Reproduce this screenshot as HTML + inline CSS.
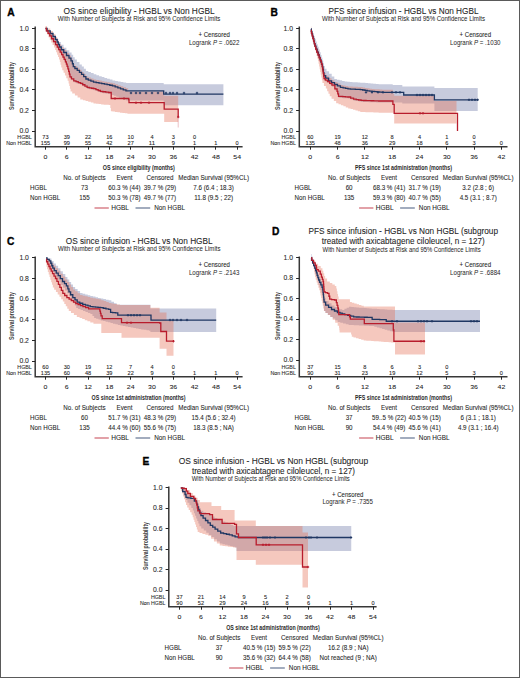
<!DOCTYPE html><html><head><meta charset="utf-8"><style>html,body{margin:0;padding:0;background:#fff;overflow:hidden}svg{display:block}</style></head><body>
<svg width="520" height="678" viewBox="0 0 520 678" font-family='"Liberation Sans", sans-serif'>
<rect x="0" y="0" width="520" height="678" fill="#fff"/>
<path d="M45.50,28.40 L47.12,28.40 L47.12,30.70 L50.38,30.70 L50.38,33.00 L52.00,33.00 L52.00,33.00 L53.25,33.00 L53.25,35.97 L55.75,35.97 L55.75,38.93 L58.25,38.93 L58.25,41.90 L59.50,41.90 L59.50,41.90 L60.85,41.90 L60.85,44.85 L63.55,44.85 L63.55,47.80 L64.90,47.80 L64.90,47.80 L66.38,47.80 L66.38,50.15 L69.33,50.15 L69.33,52.50 L70.80,52.50 L70.80,52.50 L71.58,52.50 L71.58,54.87 L73.15,54.87 L73.15,57.23 L74.72,57.23 L74.72,59.60 L75.50,59.60 L75.50,59.60 L76.83,59.60 L76.83,62.00 L79.47,62.00 L79.47,64.40 L80.80,64.40 L80.80,64.40 L81.82,64.40 L81.82,66.60 L83.85,66.60 L83.85,68.80 L85.88,68.80 L85.88,71.00 L86.90,71.00 L86.90,71.00 L88.25,71.00 L88.25,72.06 L90.95,72.06 L90.95,73.12 L93.65,73.12 L93.65,74.18 L96.35,74.18 L96.35,75.24 L99.05,75.24 L99.05,76.30 L100.40,76.30 L100.40,76.30 L101.74,76.30 L101.74,77.12 L104.42,77.12 L104.42,77.94 L107.10,77.94 L107.10,78.76 L109.78,78.76 L109.78,79.58 L112.46,79.58 L112.46,80.40 L113.80,80.40 L113.80,80.40 L115.17,80.40 L115.17,80.92 L117.91,80.92 L117.91,81.44 L120.65,81.44 L120.65,81.96 L123.39,81.96 L123.39,82.48 L126.13,82.48 L126.13,83.00 L127.50,83.00 L127.50,83.00 L163.70,83.00 L163.70,84.20 L223.40,84.20 L223.40,84.20 L223.40,105.20 L223.40,105.20 L163.70,105.20 L163.70,100.50 L127.50,100.50 L127.50,100.50 L126.25,100.50 L126.25,99.57 L123.75,99.57 L123.75,98.64 L121.25,98.64 L121.25,97.71 L118.75,97.71 L118.75,96.79 L116.25,96.79 L116.25,95.86 L113.75,95.86 L113.75,94.93 L111.25,94.93 L111.25,94.00 L110.00,94.00 L110.00,94.00 L108.58,94.00 L108.58,93.63 L105.75,93.63 L105.75,93.27 L102.92,93.27 L102.92,92.90 L101.50,92.90 L101.50,92.90 L100.38,92.90 L100.38,92.00 L98.15,92.00 L98.15,91.10 L95.92,91.10 L95.92,90.20 L94.80,90.20 L94.80,90.20 L93.70,90.20 L93.70,89.77 L91.50,89.77 L91.50,89.33 L89.30,89.33 L89.30,88.90 L88.20,88.90 L88.20,88.90 L87.10,88.90 L87.10,87.57 L84.90,87.57 L84.90,86.23 L82.70,86.23 L82.70,84.90 L81.60,84.90 L81.60,84.90 L80.48,84.90 L80.48,84.03 L78.25,84.03 L78.25,83.17 L76.02,83.17 L76.02,82.30 L74.90,82.30 L74.90,82.30 L73.75,82.30 L73.75,80.30 L71.45,80.30 L71.45,78.30 L70.30,78.30 L70.30,78.30 L69.97,78.30 L69.97,75.63 L69.30,75.63 L69.30,72.97 L68.63,72.97 L68.63,70.30 L68.30,70.30 L68.30,70.30 L67.92,70.30 L67.92,67.97 L67.15,67.97 L67.15,65.63 L66.38,65.63 L66.38,63.30 L66.00,63.30 L66.00,63.30 L65.40,63.30 L65.40,60.93 L64.20,60.93 L64.20,58.57 L63.00,58.57 L63.00,56.20 L62.40,56.20 L62.40,56.20 L61.66,56.20 L61.66,53.68 L60.19,53.68 L60.19,51.15 L58.71,51.15 L58.71,48.62 L57.24,48.62 L57.24,46.10 L56.50,46.10 L56.50,46.10 L55.52,46.10 L55.52,43.17 L53.55,43.17 L53.55,40.23 L51.58,40.23 L51.58,37.30 L50.60,37.30 L50.60,37.30 L49.75,37.30 L49.75,34.83 L48.05,34.83 L48.05,32.37 L46.35,32.37 L46.35,29.90 L45.50,29.90 Z" fill="rgba(102,113,163,0.37)" stroke="none"/>
<path d="M45.50,25.90 L47.08,25.90 L47.08,28.45 L50.22,28.45 L50.22,31.00 L51.80,31.00 L51.80,31.00 L53.00,31.00 L53.00,34.00 L55.40,34.00 L55.40,37.00 L56.60,37.00 L56.60,37.00 L57.17,37.00 L57.17,39.50 L58.30,39.50 L58.30,42.00 L59.43,42.00 L59.43,44.50 L60.00,44.50 L60.00,44.50 L61.25,44.50 L61.25,47.25 L63.75,47.25 L63.75,50.00 L65.00,50.00 L65.00,50.00 L66.50,50.00 L66.50,53.00 L68.00,53.00 L68.00,53.00 L69.00,53.00 L69.00,55.65 L71.00,55.65 L71.00,58.30 L72.00,58.30 L72.00,58.30 L72.42,58.30 L72.42,61.25 L73.28,61.25 L73.28,64.20 L73.70,64.20 L73.70,64.20 L74.88,64.20 L74.88,66.00 L77.23,66.00 L77.23,67.80 L78.40,67.80 L78.40,67.80 L79.45,67.80 L79.45,69.85 L81.55,69.85 L81.55,71.90 L82.60,71.90 L82.60,71.90 L83.70,71.90 L83.70,74.20 L85.90,74.20 L85.90,76.50 L87.00,76.50 L87.00,76.50 L88.30,76.50 L88.30,77.53 L90.90,77.53 L90.90,78.57 L93.50,78.57 L93.50,79.60 L94.80,79.60 L94.80,79.60 L96.20,79.60 L96.20,80.10 L99.00,80.10 L99.00,80.60 L100.40,80.60 L100.40,80.60 L101.74,80.60 L101.74,81.14 L104.42,81.14 L104.42,81.68 L107.10,81.68 L107.10,82.22 L109.78,82.22 L109.78,82.76 L112.46,82.76 L112.46,83.30 L113.80,83.30 L113.80,83.30 L115.15,83.30 L115.15,84.30 L117.85,84.30 L117.85,85.30 L120.55,85.30 L120.55,86.30 L123.25,86.30 L123.25,87.30 L125.95,87.30 L125.95,88.30 L127.30,88.30 L127.30,88.30 L128.15,88.30 L128.15,91.50 L129.00,91.50 L129.00,91.50 L164.20,91.50 L164.20,95.80 L178.20,95.80 L178.20,95.80 L178.20,127.50 L178.20,121.90 L164.20,121.90 L164.20,113.70 L128.70,113.70 L128.70,113.70 L127.45,113.70 L127.45,113.34 L124.95,113.34 L124.95,112.99 L122.45,112.99 L122.45,112.63 L119.95,112.63 L119.95,112.27 L117.45,112.27 L117.45,111.91 L114.95,111.91 L114.95,111.56 L112.45,111.56 L112.45,111.20 L111.20,111.20 L111.20,111.20 L110.90,111.20 L110.90,108.10 L110.30,108.10 L110.30,105.00 L110.00,105.00 L110.00,105.00 L108.75,105.00 L108.75,104.85 L106.25,104.85 L106.25,104.70 L105.00,104.70 L105.00,104.70 L103.72,104.70 L103.72,104.38 L101.17,104.38 L101.17,104.05 L98.62,104.05 L98.62,103.73 L96.08,103.73 L96.08,103.40 L94.80,103.40 L94.80,103.40 L93.48,103.40 L93.48,102.60 L90.84,102.60 L90.84,101.80 L88.20,101.80 L88.20,101.00 L85.56,101.00 L85.56,100.20 L82.92,100.20 L82.92,99.40 L81.60,99.40 L81.60,99.40 L80.26,99.40 L80.26,97.40 L77.59,97.40 L77.59,95.40 L74.91,95.40 L74.91,93.40 L72.24,93.40 L72.24,91.40 L70.90,91.40 L70.90,91.40 L70.58,91.40 L70.58,88.75 L69.92,88.75 L69.92,86.10 L69.28,86.10 L69.28,83.45 L68.62,83.45 L68.62,80.80 L68.30,80.80 L68.30,80.80 L67.63,80.80 L67.63,78.14 L66.29,78.14 L66.29,75.48 L64.95,75.48 L64.95,72.82 L63.61,72.82 L63.61,70.16 L62.27,70.16 L62.27,67.50 L61.60,67.50 L61.60,67.50 L61.25,67.50 L61.25,64.80 L60.55,64.80 L60.55,62.10 L59.85,62.10 L59.85,59.40 L59.50,59.40 L59.50,59.40 L59.02,59.40 L59.02,57.04 L58.06,57.04 L58.06,54.68 L57.10,54.68 L57.10,52.32 L56.14,52.32 L56.14,49.96 L55.18,49.96 L55.18,47.60 L54.70,47.60 L54.70,47.60 L54.00,47.60 L54.00,45.00 L52.60,45.00 L52.60,42.40 L51.20,42.40 L51.20,39.80 L49.80,39.80 L49.80,37.20 L48.40,37.20 L48.40,34.60 L47.70,34.60 L47.70,34.60 L47.15,34.60 L47.15,31.50 L46.05,31.50 L46.05,28.40 L45.50,28.40 Z" fill="rgba(229,110,84,0.38)" stroke="none"/>
<path d="M45.50,28.40 L47.08,28.40 L47.08,30.95 L50.22,30.95 L50.22,33.50 L51.80,33.50 L51.80,33.50 L53.00,33.50 L53.00,36.50 L55.40,36.50 L55.40,39.50 L56.60,39.50 L56.60,39.50 L57.17,39.50 L57.17,42.00 L58.30,42.00 L58.30,44.50 L59.43,44.50 L59.43,47.00 L60.00,47.00 L60.00,47.00 L61.25,47.00 L61.25,49.75 L63.75,49.75 L63.75,52.50 L65.00,52.50 L65.00,52.50 L66.50,52.50 L66.50,55.50 L68.00,55.50 L68.00,55.50 L69.00,55.50 L69.00,58.15 L71.00,58.15 L71.00,60.80 L72.00,60.80 L72.00,60.80 L72.42,60.80 L72.42,63.75 L73.28,63.75 L73.28,66.70 L73.70,66.70 L73.70,66.70 L74.88,66.70 L74.88,68.50 L77.23,68.50 L77.23,70.30 L78.40,70.30 L78.40,70.30 L79.45,70.30 L79.45,72.35 L81.55,72.35 L81.55,74.40 L82.60,74.40 L82.60,74.40 L83.70,74.40 L83.70,76.70 L85.90,76.70 L85.90,79.00 L87.00,79.00 L87.00,79.00 L88.30,79.00 L88.30,80.03 L90.90,80.03 L90.90,81.07 L93.50,81.07 L93.50,82.10 L94.80,82.10 L94.80,82.10 L96.20,82.10 L96.20,82.60 L99.00,82.60 L99.00,83.10 L100.40,83.10 L100.40,83.10 L101.74,83.10 L101.74,83.64 L104.42,83.64 L104.42,84.18 L107.10,84.18 L107.10,84.72 L109.78,84.72 L109.78,85.26 L112.46,85.26 L112.46,85.80 L113.80,85.80 L113.80,85.80 L115.15,85.80 L115.15,86.80 L117.85,86.80 L117.85,87.80 L120.55,87.80 L120.55,88.80 L123.25,88.80 L123.25,89.80 L125.95,89.80 L125.95,90.80 L127.30,90.80 L127.30,90.80 L163.70,90.80 L163.70,94.20 L223.40,94.20 L223.40,94.20" fill="none" stroke="#1f3763" stroke-width="1.3" stroke-linejoin="miter"/>
<path d="M45.50,28.40 L46.35,28.40 L46.35,30.87 L48.05,30.87 L48.05,33.33 L49.75,33.33 L49.75,35.80 L50.60,35.80 L50.60,35.80 L51.58,35.80 L51.58,38.73 L53.55,38.73 L53.55,41.67 L55.52,41.67 L55.52,44.60 L56.50,44.60 L56.50,44.60 L57.24,44.60 L57.24,47.12 L58.71,47.12 L58.71,49.65 L60.19,49.65 L60.19,52.18 L61.66,52.18 L61.66,54.70 L62.40,54.70 L62.40,54.70 L63.00,54.70 L63.00,57.07 L64.20,57.07 L64.20,59.43 L65.40,59.43 L65.40,61.80 L66.00,61.80 L66.00,61.80 L66.38,61.80 L66.38,64.13 L67.15,64.13 L67.15,66.47 L67.92,66.47 L67.92,68.80 L68.30,68.80 L68.30,68.80 L68.63,68.80 L68.63,71.47 L69.30,71.47 L69.30,74.13 L69.97,74.13 L69.97,76.80 L70.30,76.80 L70.30,76.80 L71.45,76.80 L71.45,78.80 L73.75,78.80 L73.75,80.80 L74.90,80.80 L74.90,80.80 L76.02,80.80 L76.02,81.67 L78.25,81.67 L78.25,82.53 L80.48,82.53 L80.48,83.40 L81.60,83.40 L81.60,83.40 L82.70,83.40 L82.70,84.73 L84.90,84.73 L84.90,86.07 L87.10,86.07 L87.10,87.40 L88.20,87.40 L88.20,87.40 L89.30,87.40 L89.30,87.83 L91.50,87.83 L91.50,88.27 L93.70,88.27 L93.70,88.70 L94.80,88.70 L94.80,88.70 L95.92,88.70 L95.92,89.60 L98.15,89.60 L98.15,90.50 L100.38,90.50 L100.38,91.40 L101.50,91.40 L101.50,91.40 L102.92,91.40 L102.92,91.77 L105.75,91.77 L105.75,92.13 L108.58,92.13 L108.58,92.50 L110.00,92.50 L110.00,92.50 L111.20,92.50 L111.20,98.50 L128.70,98.50 L128.70,99.50 L129.00,99.50 L129.00,102.70 L164.20,102.70 L164.20,109.20 L178.20,109.20 L178.20,117.00 L178.20,117.00 L178.20,117.00" fill="none" stroke="#b81c2c" stroke-width="1.3" stroke-linejoin="miter"/>
<path d="M129.80,93.00H132.20M131.00,91.80V94.20M134.80,93.00H137.20M136.00,91.80V94.20M138.80,93.00H141.20M140.00,91.80V94.20M144.80,93.00H147.20M146.00,91.80V94.20M150.80,93.00H153.20M152.00,91.80V94.20M156.80,93.00H159.20M158.00,91.80V94.20M164.80,93.00H167.20M166.00,91.80V94.20M168.80,93.00H171.20M170.00,91.80V94.20M171.80,93.00H174.20M173.00,91.80V94.20M175.80,93.00H178.20M177.00,91.80V94.20M182.80,93.00H185.20M184.00,91.80V94.20M195.80,93.00H198.20M197.00,91.80V94.20" stroke="#1f3763" stroke-width="1.0" fill="none"/>
<path d="M113.80,98.50H116.20M115.00,97.30V99.70M122.80,98.50H125.20M124.00,97.30V99.70" stroke="#b81c2c" stroke-width="1.0" fill="none"/>
<path d="M134.80,102.70H137.20M136.00,101.50V103.90M139.80,102.70H142.20M141.00,101.50V103.90M147.80,102.70H150.20M149.00,101.50V103.90" stroke="#b81c2c" stroke-width="1.0" fill="none"/>
<path d="M177.00,117.00H179.40M178.20,115.80V118.20" stroke="#b81c2c" stroke-width="1.0" fill="none"/>
<line x1="178.2" y1="117" x2="178.2" y2="127.5" stroke="#b81c2c" stroke-opacity="0.35" stroke-width="0.8"/>
<path d="M35.20,26.50 V146.70 H242.60" fill="none" stroke="#383838" stroke-width="1.5"/>
<line x1="32.00" y1="131.50" x2="35.20" y2="131.50" stroke="#262626" stroke-width="1"/>
<text x="28.90" y="133.20" font-size="6.5" text-anchor="end" font-weight="normal" fill="#1e1e1e" textLength="9.48" lengthAdjust="spacingAndGlyphs" stroke="#1e1e1e" stroke-width="0.07">0.0</text>
<line x1="32.00" y1="110.50" x2="35.20" y2="110.50" stroke="#262626" stroke-width="1"/>
<text x="28.90" y="112.68" font-size="6.5" text-anchor="end" font-weight="normal" fill="#1e1e1e" textLength="9.48" lengthAdjust="spacingAndGlyphs" stroke="#1e1e1e" stroke-width="0.07">0.2</text>
<line x1="32.00" y1="89.50" x2="35.20" y2="89.50" stroke="#262626" stroke-width="1"/>
<text x="28.90" y="92.16" font-size="6.5" text-anchor="end" font-weight="normal" fill="#1e1e1e" textLength="9.48" lengthAdjust="spacingAndGlyphs" stroke="#1e1e1e" stroke-width="0.07">0.4</text>
<line x1="32.00" y1="69.50" x2="35.20" y2="69.50" stroke="#262626" stroke-width="1"/>
<text x="28.90" y="71.64" font-size="6.5" text-anchor="end" font-weight="normal" fill="#1e1e1e" textLength="9.48" lengthAdjust="spacingAndGlyphs" stroke="#1e1e1e" stroke-width="0.07">0.6</text>
<line x1="32.00" y1="48.50" x2="35.20" y2="48.50" stroke="#262626" stroke-width="1"/>
<text x="28.90" y="51.12" font-size="6.5" text-anchor="end" font-weight="normal" fill="#1e1e1e" textLength="9.48" lengthAdjust="spacingAndGlyphs" stroke="#1e1e1e" stroke-width="0.07">0.8</text>
<line x1="32.00" y1="28.50" x2="35.20" y2="28.50" stroke="#262626" stroke-width="1"/>
<text x="28.90" y="30.60" font-size="6.5" text-anchor="end" font-weight="normal" fill="#1e1e1e" textLength="9.48" lengthAdjust="spacingAndGlyphs" stroke="#1e1e1e" stroke-width="0.07">1.0</text>
<line x1="45.50" y1="146.70" x2="45.50" y2="149.70" stroke="#262626" stroke-width="1"/>
<text x="45.50" y="158.50" font-size="5.8" text-anchor="middle" font-weight="normal" fill="#1e1e1e" textLength="3.87" lengthAdjust="spacingAndGlyphs" stroke="#1e1e1e" stroke-width="0.07">0</text>
<line x1="66.50" y1="146.70" x2="66.50" y2="149.70" stroke="#262626" stroke-width="1"/>
<text x="66.80" y="158.50" font-size="5.8" text-anchor="middle" font-weight="normal" fill="#1e1e1e" textLength="3.87" lengthAdjust="spacingAndGlyphs" stroke="#1e1e1e" stroke-width="0.07">6</text>
<line x1="88.50" y1="146.70" x2="88.50" y2="149.70" stroke="#262626" stroke-width="1"/>
<text x="88.10" y="158.50" font-size="5.8" text-anchor="middle" font-weight="normal" fill="#1e1e1e" textLength="7.74" lengthAdjust="spacingAndGlyphs" stroke="#1e1e1e" stroke-width="0.07">12</text>
<line x1="109.50" y1="146.70" x2="109.50" y2="149.70" stroke="#262626" stroke-width="1"/>
<text x="109.40" y="158.50" font-size="5.8" text-anchor="middle" font-weight="normal" fill="#1e1e1e" textLength="7.74" lengthAdjust="spacingAndGlyphs" stroke="#1e1e1e" stroke-width="0.07">18</text>
<line x1="130.50" y1="146.70" x2="130.50" y2="149.70" stroke="#262626" stroke-width="1"/>
<text x="130.70" y="158.50" font-size="5.8" text-anchor="middle" font-weight="normal" fill="#1e1e1e" textLength="7.74" lengthAdjust="spacingAndGlyphs" stroke="#1e1e1e" stroke-width="0.07">24</text>
<line x1="152.50" y1="146.70" x2="152.50" y2="149.70" stroke="#262626" stroke-width="1"/>
<text x="152.00" y="158.50" font-size="5.8" text-anchor="middle" font-weight="normal" fill="#1e1e1e" textLength="7.74" lengthAdjust="spacingAndGlyphs" stroke="#1e1e1e" stroke-width="0.07">30</text>
<line x1="173.50" y1="146.70" x2="173.50" y2="149.70" stroke="#262626" stroke-width="1"/>
<text x="173.30" y="158.50" font-size="5.8" text-anchor="middle" font-weight="normal" fill="#1e1e1e" textLength="7.74" lengthAdjust="spacingAndGlyphs" stroke="#1e1e1e" stroke-width="0.07">36</text>
<line x1="194.50" y1="146.70" x2="194.50" y2="149.70" stroke="#262626" stroke-width="1"/>
<text x="194.60" y="158.50" font-size="5.8" text-anchor="middle" font-weight="normal" fill="#1e1e1e" textLength="7.74" lengthAdjust="spacingAndGlyphs" stroke="#1e1e1e" stroke-width="0.07">42</text>
<line x1="215.50" y1="146.70" x2="215.50" y2="149.70" stroke="#262626" stroke-width="1"/>
<text x="215.90" y="158.50" font-size="5.8" text-anchor="middle" font-weight="normal" fill="#1e1e1e" textLength="7.74" lengthAdjust="spacingAndGlyphs" stroke="#1e1e1e" stroke-width="0.07">48</text>
<line x1="237.50" y1="146.70" x2="237.50" y2="149.70" stroke="#262626" stroke-width="1"/>
<text x="237.20" y="158.50" font-size="5.8" text-anchor="middle" font-weight="normal" fill="#1e1e1e" textLength="7.74" lengthAdjust="spacingAndGlyphs" stroke="#1e1e1e" stroke-width="0.07">54</text>
<text x="45.50" y="139.40" font-size="4.6" text-anchor="middle" font-weight="normal" fill="#1e1e1e" textLength="6.24" lengthAdjust="spacingAndGlyphs" stroke="#1e1e1e" stroke-width="0.07">73</text>
<text x="66.80" y="139.40" font-size="4.6" text-anchor="middle" font-weight="normal" fill="#1e1e1e" textLength="6.24" lengthAdjust="spacingAndGlyphs" stroke="#1e1e1e" stroke-width="0.07">39</text>
<text x="88.10" y="139.40" font-size="4.6" text-anchor="middle" font-weight="normal" fill="#1e1e1e" textLength="6.24" lengthAdjust="spacingAndGlyphs" stroke="#1e1e1e" stroke-width="0.07">22</text>
<text x="109.40" y="139.40" font-size="4.6" text-anchor="middle" font-weight="normal" fill="#1e1e1e" textLength="6.24" lengthAdjust="spacingAndGlyphs" stroke="#1e1e1e" stroke-width="0.07">16</text>
<text x="130.70" y="139.40" font-size="4.6" text-anchor="middle" font-weight="normal" fill="#1e1e1e" textLength="6.24" lengthAdjust="spacingAndGlyphs" stroke="#1e1e1e" stroke-width="0.07">10</text>
<text x="152.00" y="139.40" font-size="4.6" text-anchor="middle" font-weight="normal" fill="#1e1e1e" textLength="3.12" lengthAdjust="spacingAndGlyphs" stroke="#1e1e1e" stroke-width="0.07">4</text>
<text x="173.30" y="139.40" font-size="4.6" text-anchor="middle" font-weight="normal" fill="#1e1e1e" textLength="3.12" lengthAdjust="spacingAndGlyphs" stroke="#1e1e1e" stroke-width="0.07">3</text>
<text x="194.60" y="139.40" font-size="4.6" text-anchor="middle" font-weight="normal" fill="#1e1e1e" textLength="3.12" lengthAdjust="spacingAndGlyphs" stroke="#1e1e1e" stroke-width="0.07">0</text>
<text x="45.50" y="145.40" font-size="4.6" text-anchor="middle" font-weight="normal" fill="#1e1e1e" textLength="9.36" lengthAdjust="spacingAndGlyphs" stroke="#1e1e1e" stroke-width="0.07">155</text>
<text x="66.80" y="145.40" font-size="4.6" text-anchor="middle" font-weight="normal" fill="#1e1e1e" textLength="6.24" lengthAdjust="spacingAndGlyphs" stroke="#1e1e1e" stroke-width="0.07">99</text>
<text x="88.10" y="145.40" font-size="4.6" text-anchor="middle" font-weight="normal" fill="#1e1e1e" textLength="6.24" lengthAdjust="spacingAndGlyphs" stroke="#1e1e1e" stroke-width="0.07">55</text>
<text x="109.40" y="145.40" font-size="4.6" text-anchor="middle" font-weight="normal" fill="#1e1e1e" textLength="6.24" lengthAdjust="spacingAndGlyphs" stroke="#1e1e1e" stroke-width="0.07">42</text>
<text x="130.70" y="145.40" font-size="4.6" text-anchor="middle" font-weight="normal" fill="#1e1e1e" textLength="6.24" lengthAdjust="spacingAndGlyphs" stroke="#1e1e1e" stroke-width="0.07">27</text>
<text x="152.00" y="145.40" font-size="4.6" text-anchor="middle" font-weight="normal" fill="#1e1e1e" textLength="6.24" lengthAdjust="spacingAndGlyphs" stroke="#1e1e1e" stroke-width="0.07">11</text>
<text x="173.30" y="145.40" font-size="4.6" text-anchor="middle" font-weight="normal" fill="#1e1e1e" textLength="3.12" lengthAdjust="spacingAndGlyphs" stroke="#1e1e1e" stroke-width="0.07">9</text>
<text x="194.60" y="145.40" font-size="4.6" text-anchor="middle" font-weight="normal" fill="#1e1e1e" textLength="3.12" lengthAdjust="spacingAndGlyphs" stroke="#1e1e1e" stroke-width="0.07">1</text>
<text x="215.90" y="145.40" font-size="4.6" text-anchor="middle" font-weight="normal" fill="#1e1e1e" textLength="3.12" lengthAdjust="spacingAndGlyphs" stroke="#1e1e1e" stroke-width="0.07">1</text>
<text x="237.20" y="145.40" font-size="4.6" text-anchor="middle" font-weight="normal" fill="#1e1e1e" textLength="3.12" lengthAdjust="spacingAndGlyphs" stroke="#1e1e1e" stroke-width="0.07">0</text>
<text x="31.80" y="139.40" font-size="5.0" text-anchor="end" font-weight="normal" fill="#1e1e1e" textLength="14.5" lengthAdjust="spacingAndGlyphs" stroke="#1e1e1e" stroke-width="0.07">HGBL</text>
<text x="31.80" y="145.40" font-size="5.0" text-anchor="end" font-weight="normal" fill="#1e1e1e" textLength="25.5" lengthAdjust="spacingAndGlyphs" stroke="#1e1e1e" stroke-width="0.07">Non HGBL</text>
<text x="0" y="0" font-size="7.4" font-weight="bold" text-anchor="middle" fill-opacity="0.9" fill="#1e1e1e" transform="translate(14.40,86.00) rotate(-90)" textLength="48" lengthAdjust="spacingAndGlyphs">Survival probability</text>
<text x="138.80" y="169.80" font-size="8.0" text-anchor="middle" font-weight="bold" fill="#2a2a2a" textLength="72" lengthAdjust="spacingAndGlyphs">OS since eligibility (months)</text>
<text x="10.90" y="15.70" font-size="10.2" text-anchor="middle" font-weight="bold" fill="#000" stroke="#000" stroke-width="0.35">A</text>
<text x="139.10" y="13.80" font-size="8.4" text-anchor="middle" font-weight="normal" fill="#1e1e1e" textLength="151" lengthAdjust="spacingAndGlyphs" stroke="#1e1e1e" stroke-width="0.07">OS since eligibility - HGBL vs Non HGBL</text>
<text x="139.10" y="21.20" font-size="6.5" text-anchor="middle" font-weight="normal" fill="#1e1e1e" textLength="162.5" lengthAdjust="spacingAndGlyphs" stroke="#1e1e1e" stroke-width="0.03">With Number of Subjects at Risk and 95% Confidence Limits</text>
<text x="214.20" y="36.90" font-size="6.4" text-anchor="middle" font-weight="normal" fill="#1e1e1e" textLength="31.5" lengthAdjust="spacingAndGlyphs" stroke="#1e1e1e" stroke-width="0.07">+ Censored</text>
<text x="214.20" y="44.50" font-size="6.5" text-anchor="middle" fill="#1e1e1e" textLength="50.5" lengthAdjust="spacingAndGlyphs">Logrank <tspan font-style="italic">P</tspan> = .0622</text>
<text x="84.50" y="180.20" font-size="6.6" text-anchor="middle" font-weight="normal" fill="#1e1e1e" textLength="42.32" lengthAdjust="spacingAndGlyphs" stroke="#1e1e1e" stroke-width="0.07">No. of Subjects</text>
<text x="124.50" y="180.20" font-size="6.6" text-anchor="middle" font-weight="normal" fill="#1e1e1e" textLength="15.96" lengthAdjust="spacingAndGlyphs" stroke="#1e1e1e" stroke-width="0.07">Event</text>
<text x="160.00" y="180.20" font-size="6.6" text-anchor="middle" font-weight="normal" fill="#1e1e1e" textLength="27.06" lengthAdjust="spacingAndGlyphs" stroke="#1e1e1e" stroke-width="0.07">Censored</text>
<text x="213.60" y="180.20" font-size="6.6" text-anchor="middle" font-weight="normal" fill="#1e1e1e" textLength="70.75" lengthAdjust="spacingAndGlyphs" stroke="#1e1e1e" stroke-width="0.07">Median Survival (95%CL)</text>
<text x="30.00" y="190.00" font-size="6.6" text-anchor="start" font-weight="normal" fill="#1e1e1e" textLength="16.99" lengthAdjust="spacingAndGlyphs" stroke="#1e1e1e" stroke-width="0.07">HGBL</text>
<text x="84.50" y="190.00" font-size="6.6" text-anchor="middle" font-weight="normal" fill="#1e1e1e" textLength="6.94" lengthAdjust="spacingAndGlyphs" stroke="#1e1e1e" stroke-width="0.07">73</text>
<text x="124.50" y="190.00" font-size="6.6" text-anchor="middle" font-weight="normal" fill="#1e1e1e" textLength="32.26" lengthAdjust="spacingAndGlyphs" stroke="#1e1e1e" stroke-width="0.07">60.3 % (44)</text>
<text x="160.00" y="190.00" font-size="6.6" text-anchor="middle" font-weight="normal" fill="#1e1e1e" textLength="32.26" lengthAdjust="spacingAndGlyphs" stroke="#1e1e1e" stroke-width="0.07">39.7 % (29)</text>
<text x="213.60" y="190.00" font-size="6.6" text-anchor="middle" font-weight="normal" fill="#1e1e1e" textLength="40.58" lengthAdjust="spacingAndGlyphs" stroke="#1e1e1e" stroke-width="0.07">7.6 (6.4 ; 18.3)</text>
<text x="30.00" y="199.60" font-size="6.6" text-anchor="start" font-weight="normal" fill="#1e1e1e" textLength="30.17" lengthAdjust="spacingAndGlyphs" stroke="#1e1e1e" stroke-width="0.07">Non HGBL</text>
<text x="84.50" y="199.60" font-size="6.6" text-anchor="middle" font-weight="normal" fill="#1e1e1e" textLength="10.41" lengthAdjust="spacingAndGlyphs" stroke="#1e1e1e" stroke-width="0.07">155</text>
<text x="124.50" y="199.60" font-size="6.6" text-anchor="middle" font-weight="normal" fill="#1e1e1e" textLength="32.26" lengthAdjust="spacingAndGlyphs" stroke="#1e1e1e" stroke-width="0.07">50.3 % (78)</text>
<text x="160.00" y="199.60" font-size="6.6" text-anchor="middle" font-weight="normal" fill="#1e1e1e" textLength="32.26" lengthAdjust="spacingAndGlyphs" stroke="#1e1e1e" stroke-width="0.07">49.7 % (77)</text>
<text x="213.60" y="199.60" font-size="6.6" text-anchor="middle" font-weight="normal" fill="#1e1e1e" textLength="38.85" lengthAdjust="spacingAndGlyphs" stroke="#1e1e1e" stroke-width="0.07">11.8 (9.5 ; 22)</text>
<line x1="94.50" y1="208.00" x2="108.80" y2="208.00" stroke="#b81c2c" stroke-width="1.1" stroke-opacity="0.75"/>
<text x="111.20" y="210.00" font-size="6.3" text-anchor="start" font-weight="normal" fill="#1e1e1e" textLength="17.81" lengthAdjust="spacingAndGlyphs" stroke="#1e1e1e" stroke-width="0.07">HGBL</text>
<line x1="135.50" y1="208.00" x2="150.20" y2="208.00" stroke="#1f3763" stroke-width="1.1" stroke-opacity="0.75"/>
<text x="154.20" y="210.00" font-size="6.3" text-anchor="start" font-weight="normal" fill="#1e1e1e" textLength="30.75" lengthAdjust="spacingAndGlyphs" stroke="#1e1e1e" stroke-width="0.07">Non HGBL</text>
<path d="M310.80,28.40 L311.36,28.40 L311.36,30.98 L312.49,30.98 L312.49,33.55 L313.61,33.55 L313.61,36.12 L314.74,36.12 L314.74,38.70 L315.30,38.70 L315.30,38.70 L315.79,38.70 L315.79,41.42 L316.77,41.42 L316.77,44.13 L317.76,44.13 L317.76,46.85 L318.74,46.85 L318.74,49.57 L319.73,49.57 L319.73,52.28 L320.71,52.28 L320.71,55.00 L321.20,55.00 L321.20,55.00 L321.60,55.00 L321.60,57.74 L322.40,57.74 L322.40,60.48 L323.20,60.48 L323.20,63.22 L324.00,63.22 L324.00,65.96 L324.80,65.96 L324.80,68.70 L325.20,68.70 L325.20,68.70 L326.50,68.70 L326.50,71.28 L329.10,71.28 L329.10,73.85 L331.70,73.85 L331.70,76.42 L334.30,76.42 L334.30,79.00 L335.60,79.00 L335.60,79.00 L336.90,79.00 L336.90,79.65 L339.50,79.65 L339.50,80.30 L342.10,80.30 L342.10,80.95 L344.70,80.95 L344.70,81.60 L346.00,81.60 L346.00,81.60 L347.30,81.60 L347.30,81.78 L349.88,81.78 L349.88,81.96 L352.48,81.96 L352.48,82.14 L355.06,82.14 L355.06,82.32 L357.65,82.32 L357.65,82.50 L360.25,82.50 L360.25,82.68 L362.83,82.68 L362.83,82.86 L365.42,82.86 L365.42,83.04 L368.01,83.04 L368.01,83.22 L370.60,83.22 L370.60,83.40 L371.90,83.40 L371.90,83.40 L373.25,83.40 L373.25,83.67 L375.95,83.67 L375.95,83.93 L378.65,83.93 L378.65,84.20 L380.00,84.20 L380.00,84.20 L392.70,84.20 L392.70,85.10 L402.30,85.10 L402.30,86.50 L434.40,86.50 L434.40,88.00 L477.70,88.00 L477.70,88.00 L477.70,111.00 L477.70,111.00 L434.40,111.00 L434.40,103.40 L402.30,103.40 L402.30,102.50 L380.00,102.50 L380.00,102.50 L378.74,102.50 L378.74,102.41 L376.21,102.41 L376.21,102.33 L373.68,102.33 L373.68,102.24 L371.15,102.24 L371.15,102.16 L368.62,102.16 L368.62,102.07 L366.09,102.07 L366.09,101.99 L363.56,101.99 L363.56,101.90 L362.30,101.90 L362.30,101.90 L361.08,101.90 L361.08,101.50 L358.65,101.50 L358.65,101.10 L356.22,101.10 L356.22,100.70 L355.00,100.70 L355.00,100.70 L353.55,100.70 L353.55,99.60 L350.65,99.60 L350.65,98.50 L349.20,98.50 L349.20,98.50 L347.91,98.50 L347.91,98.33 L345.34,98.33 L345.34,98.15 L342.76,98.15 L342.76,97.97 L340.19,97.97 L340.19,97.80 L338.90,97.80 L338.90,97.80 L338.53,97.80 L338.53,95.33 L337.80,95.33 L337.80,92.87 L337.07,92.87 L337.07,90.40 L336.70,90.40 L336.70,90.40 L334.85,90.40 L334.85,86.70 L333.00,86.70 L333.00,86.70 L331.90,86.70 L331.90,84.85 L329.70,84.85 L329.70,83.00 L328.60,83.00 L328.60,83.00 L327.50,83.00 L327.50,81.55 L325.30,81.55 L325.30,80.10 L324.20,80.10 L324.20,80.10 L324.02,80.10 L324.02,77.63 L323.65,77.63 L323.65,75.17 L323.28,75.17 L323.28,72.70 L322.92,72.70 L322.92,70.23 L322.55,70.23 L322.55,67.77 L322.18,67.77 L322.18,65.30 L322.00,65.30 L322.00,65.30 L321.43,65.30 L321.43,62.35 L320.27,62.35 L320.27,59.40 L319.70,59.40 L319.70,59.40 L319.10,59.40 L319.10,56.47 L317.90,56.47 L317.90,53.53 L316.70,53.53 L316.70,50.60 L316.10,50.60 L316.10,50.60 L315.74,50.60 L315.74,47.94 L315.01,47.94 L315.01,45.29 L314.28,45.29 L314.28,42.63 L313.55,42.63 L313.55,39.97 L312.82,39.97 L312.82,37.31 L312.09,37.31 L312.09,34.66 L311.36,34.66 L311.36,32.00 L311.00,32.00 Z" fill="rgba(102,113,163,0.37)" stroke="none"/>
<path d="M311.00,26.50 L311.31,26.50 L311.31,28.94 L311.92,28.94 L311.92,31.39 L312.54,31.39 L312.54,33.83 L313.15,33.83 L313.15,36.27 L313.76,36.27 L313.76,38.71 L314.38,38.71 L314.38,41.16 L314.99,41.16 L314.99,43.60 L315.30,43.60 L315.30,43.60 L315.92,43.60 L315.92,46.57 L317.15,46.57 L317.15,49.53 L318.38,49.53 L318.38,52.50 L319.00,52.50 L319.00,52.50 L319.37,52.50 L319.37,54.86 L320.11,54.86 L320.11,57.22 L320.85,57.22 L320.85,59.58 L321.59,59.58 L321.59,61.94 L322.33,61.94 L322.33,64.30 L322.70,64.30 L322.70,64.30 L322.95,64.30 L322.95,67.23 L323.45,67.23 L323.45,70.17 L323.95,70.17 L323.95,73.10 L324.20,73.10 L324.20,73.10 L325.68,73.10 L325.68,75.70 L328.62,75.70 L328.62,78.30 L330.10,78.30 L330.10,78.30 L331.58,78.30 L331.58,80.15 L334.52,80.15 L334.52,82.00 L336.00,82.00 L336.00,82.00 L337.48,82.00 L337.48,83.45 L340.42,83.45 L340.42,84.90 L341.90,84.90 L341.90,84.90 L343.12,84.90 L343.12,85.40 L345.55,85.40 L345.55,85.90 L347.98,85.90 L347.98,86.40 L349.20,86.40 L349.20,86.40 L350.43,86.40 L350.43,86.54 L352.89,86.54 L352.89,86.68 L355.35,86.68 L355.35,86.82 L357.81,86.82 L357.81,86.96 L360.27,86.96 L360.27,87.10 L361.50,87.10 L361.50,87.10 L362.66,87.10 L362.66,87.50 L364.99,87.50 L364.99,87.90 L367.31,87.90 L367.31,88.30 L369.64,88.30 L369.64,88.70 L370.80,88.70 L370.80,88.70 L372.07,88.70 L372.07,88.92 L374.61,88.92 L374.61,89.14 L377.15,89.14 L377.15,89.36 L379.69,89.36 L379.69,89.58 L382.23,89.58 L382.23,89.80 L383.50,89.80 L383.50,89.80 L392.90,89.80 L392.90,93.50 L394.20,93.50 L394.20,95.70 L434.40,95.70 L434.40,101.00 L456.50,101.00 L456.50,101.00 L456.50,123.60 L456.50,123.60 L394.20,123.60 L394.20,112.80 L391.50,112.80 L391.50,112.70 L380.00,112.70 L380.00,112.70 L378.68,112.70 L378.68,112.59 L376.04,112.59 L376.04,112.47 L373.39,112.47 L373.39,112.36 L370.75,112.36 L370.75,112.24 L368.11,112.24 L368.11,112.13 L365.46,112.13 L365.46,112.01 L362.82,112.01 L362.82,111.90 L361.50,111.90 L361.50,111.90 L360.29,111.90 L360.29,111.20 L357.87,111.20 L357.87,110.50 L355.45,110.50 L355.45,109.80 L353.03,109.80 L353.03,109.10 L350.61,109.10 L350.61,108.40 L349.40,108.40 L349.40,108.40 L348.19,108.40 L348.19,107.38 L345.77,107.38 L345.77,106.36 L343.35,106.36 L343.35,105.34 L340.93,105.34 L340.93,104.32 L338.51,104.32 L338.51,103.30 L337.30,103.30 L337.30,103.30 L336.15,103.30 L336.15,100.97 L333.85,100.97 L333.85,98.63 L331.55,98.63 L331.55,96.30 L330.40,96.30 L330.40,96.30 L329.75,96.30 L329.75,93.72 L328.45,93.72 L328.45,91.15 L327.15,91.15 L327.15,88.58 L325.85,88.58 L325.85,86.00 L325.20,86.00 L325.20,86.00 L323.95,86.00 L323.95,83.00 L322.70,83.00 L322.70,83.00 L322.43,83.00 L322.43,80.24 L321.88,80.24 L321.88,77.47 L321.32,77.47 L321.32,74.71 L320.77,74.71 L320.77,71.95 L320.23,71.95 L320.23,69.19 L319.68,69.19 L319.68,66.42 L319.12,66.42 L319.12,63.66 L318.57,63.66 L318.57,60.90 L318.30,60.90 L318.30,60.90 L317.97,60.90 L317.97,58.39 L317.30,58.39 L317.30,55.88 L316.62,55.88 L316.62,53.37 L315.96,53.37 L315.96,50.86 L315.29,50.86 L315.29,48.35 L314.62,48.35 L314.62,45.84 L313.94,45.84 L313.94,43.33 L313.28,43.33 L313.28,40.82 L312.61,40.82 L312.61,38.31 L311.94,38.31 L311.94,35.80 L311.60,35.80 L311.60,35.80 L311.20,35.80 L311.20,32.00 L310.80,32.00 Z" fill="rgba(229,110,84,0.38)" stroke="none"/>
<path d="M311.00,29.00 L311.31,29.00 L311.31,31.44 L311.92,31.44 L311.92,33.89 L312.54,33.89 L312.54,36.33 L313.15,36.33 L313.15,38.77 L313.76,38.77 L313.76,41.21 L314.38,41.21 L314.38,43.66 L314.99,43.66 L314.99,46.10 L315.30,46.10 L315.30,46.10 L315.92,46.10 L315.92,49.07 L317.15,49.07 L317.15,52.03 L318.38,52.03 L318.38,55.00 L319.00,55.00 L319.00,55.00 L319.37,55.00 L319.37,57.36 L320.11,57.36 L320.11,59.72 L320.85,59.72 L320.85,62.08 L321.59,62.08 L321.59,64.44 L322.33,64.44 L322.33,66.80 L322.70,66.80 L322.70,66.80 L322.95,66.80 L322.95,69.73 L323.45,69.73 L323.45,72.67 L323.95,72.67 L323.95,75.60 L324.20,75.60 L324.20,75.60 L325.68,75.60 L325.68,78.20 L328.62,78.20 L328.62,80.80 L330.10,80.80 L330.10,80.80 L331.58,80.80 L331.58,82.65 L334.52,82.65 L334.52,84.50 L336.00,84.50 L336.00,84.50 L337.48,84.50 L337.48,85.95 L340.42,85.95 L340.42,87.40 L341.90,87.40 L341.90,87.40 L343.12,87.40 L343.12,87.90 L345.55,87.90 L345.55,88.40 L347.98,88.40 L347.98,88.90 L349.20,88.90 L349.20,88.90 L350.43,88.90 L350.43,89.04 L352.89,89.04 L352.89,89.18 L355.35,89.18 L355.35,89.32 L357.81,89.32 L357.81,89.46 L360.27,89.46 L360.27,89.60 L361.50,89.60 L361.50,89.60 L362.66,89.60 L362.66,90.00 L364.99,90.00 L364.99,90.40 L367.31,90.40 L367.31,90.80 L369.64,90.80 L369.64,91.20 L370.80,91.20 L370.80,91.20 L372.07,91.20 L372.07,91.42 L374.61,91.42 L374.61,91.64 L377.15,91.64 L377.15,91.86 L379.69,91.86 L379.69,92.08 L382.23,92.08 L382.23,92.30 L383.50,92.30 L383.50,92.30 L402.30,92.30 L402.30,92.30 L403.70,92.30 L403.70,95.00 L434.40,95.00 L434.40,95.00 L434.40,95.00 L434.40,99.80 L477.70,99.80 L477.70,99.80" fill="none" stroke="#1f3763" stroke-width="1.3" stroke-linejoin="miter"/>
<path d="M311.00,30.50 L311.36,30.50 L311.36,33.16 L312.09,33.16 L312.09,35.81 L312.82,35.81 L312.82,38.47 L313.55,38.47 L313.55,41.13 L314.28,41.13 L314.28,43.79 L315.01,43.79 L315.01,46.44 L315.74,46.44 L315.74,49.10 L316.10,49.10 L316.10,49.10 L316.70,49.10 L316.70,52.03 L317.90,52.03 L317.90,54.97 L319.10,54.97 L319.10,57.90 L319.70,57.90 L319.70,57.90 L320.27,57.90 L320.27,60.85 L321.43,60.85 L321.43,63.80 L322.00,63.80 L322.00,63.80 L322.18,63.80 L322.18,66.27 L322.55,66.27 L322.55,68.73 L322.92,68.73 L322.92,71.20 L323.28,71.20 L323.28,73.67 L323.65,73.67 L323.65,76.13 L324.02,76.13 L324.02,78.60 L324.20,78.60 L324.20,78.60 L325.30,78.60 L325.30,80.05 L327.50,80.05 L327.50,81.50 L328.60,81.50 L328.60,81.50 L329.70,81.50 L329.70,83.35 L331.90,83.35 L331.90,85.20 L333.00,85.20 L333.00,85.20 L334.85,85.20 L334.85,88.90 L336.70,88.90 L336.70,88.90 L337.07,88.90 L337.07,91.37 L337.80,91.37 L337.80,93.83 L338.53,93.83 L338.53,96.30 L338.90,96.30 L338.90,96.30 L340.19,96.30 L340.19,96.47 L342.76,96.47 L342.76,96.65 L345.34,96.65 L345.34,96.83 L347.91,96.83 L347.91,97.00 L349.20,97.00 L349.20,97.00 L350.65,97.00 L350.65,98.10 L353.55,98.10 L353.55,99.20 L355.00,99.20 L355.00,99.20 L356.22,99.20 L356.22,99.60 L358.65,99.60 L358.65,100.00 L361.08,100.00 L361.08,100.40 L362.30,100.40 L362.30,100.40 L363.56,100.40 L363.56,100.49 L366.09,100.49 L366.09,100.57 L368.62,100.57 L368.62,100.66 L371.15,100.66 L371.15,100.74 L373.68,100.74 L373.68,100.83 L376.21,100.83 L376.21,100.91 L378.74,100.91 L378.74,101.00 L380.00,101.00 L380.00,101.00 L391.50,101.00 L391.50,101.00 L392.90,101.00 L392.90,104.40 L394.20,104.40 L394.20,113.30 L457.50,113.30 L457.50,113.30 L457.50,113.30 L457.50,131.00" fill="none" stroke="#b81c2c" stroke-width="1.3" stroke-linejoin="miter"/>
<path d="M364.80,92.30H367.20M366.00,91.10V93.50M370.80,92.30H373.20M372.00,91.10V93.50M376.80,92.30H379.20M378.00,91.10V93.50M381.80,92.30H384.20M383.00,91.10V93.50M390.80,92.30H393.20M392.00,91.10V93.50M394.80,92.30H397.20M396.00,91.10V93.50M398.80,92.30H401.20M400.00,91.10V93.50" stroke="#1f3763" stroke-width="1.0" fill="none"/>
<path d="M415.80,95.00H418.20M417.00,93.80V96.20M418.80,95.00H421.20M420.00,93.80V96.20M421.80,95.00H424.20M423.00,93.80V96.20M424.80,95.00H427.20M426.00,93.80V96.20M427.80,95.00H430.20M429.00,93.80V96.20M430.80,95.00H433.20M432.00,93.80V96.20" stroke="#1f3763" stroke-width="1.0" fill="none"/>
<path d="M467.80,99.80H470.20M469.00,98.60V101.00M470.80,99.80H473.20M472.00,98.60V101.00M473.80,99.80H476.20M475.00,98.60V101.00M476.50,99.80H478.90M477.70,98.60V101.00" stroke="#1f3763" stroke-width="1.0" fill="none"/>
<path d="M418.80,113.30H421.20M420.00,112.10V114.50M421.80,113.30H424.20M423.00,112.10V114.50" stroke="#b81c2c" stroke-width="1.0" fill="none"/>
<path d="M299.30,26.50 V146.70 H507.50" fill="none" stroke="#383838" stroke-width="1.5"/>
<line x1="296.10" y1="131.50" x2="299.30" y2="131.50" stroke="#262626" stroke-width="1"/>
<text x="293.00" y="133.20" font-size="6.5" text-anchor="end" font-weight="normal" fill="#1e1e1e" textLength="9.48" lengthAdjust="spacingAndGlyphs" stroke="#1e1e1e" stroke-width="0.07">0.0</text>
<line x1="296.10" y1="110.50" x2="299.30" y2="110.50" stroke="#262626" stroke-width="1"/>
<text x="293.00" y="112.68" font-size="6.5" text-anchor="end" font-weight="normal" fill="#1e1e1e" textLength="9.48" lengthAdjust="spacingAndGlyphs" stroke="#1e1e1e" stroke-width="0.07">0.2</text>
<line x1="296.10" y1="89.50" x2="299.30" y2="89.50" stroke="#262626" stroke-width="1"/>
<text x="293.00" y="92.16" font-size="6.5" text-anchor="end" font-weight="normal" fill="#1e1e1e" textLength="9.48" lengthAdjust="spacingAndGlyphs" stroke="#1e1e1e" stroke-width="0.07">0.4</text>
<line x1="296.10" y1="69.50" x2="299.30" y2="69.50" stroke="#262626" stroke-width="1"/>
<text x="293.00" y="71.64" font-size="6.5" text-anchor="end" font-weight="normal" fill="#1e1e1e" textLength="9.48" lengthAdjust="spacingAndGlyphs" stroke="#1e1e1e" stroke-width="0.07">0.6</text>
<line x1="296.10" y1="48.50" x2="299.30" y2="48.50" stroke="#262626" stroke-width="1"/>
<text x="293.00" y="51.12" font-size="6.5" text-anchor="end" font-weight="normal" fill="#1e1e1e" textLength="9.48" lengthAdjust="spacingAndGlyphs" stroke="#1e1e1e" stroke-width="0.07">0.8</text>
<line x1="296.10" y1="28.50" x2="299.30" y2="28.50" stroke="#262626" stroke-width="1"/>
<text x="293.00" y="30.60" font-size="6.5" text-anchor="end" font-weight="normal" fill="#1e1e1e" textLength="9.48" lengthAdjust="spacingAndGlyphs" stroke="#1e1e1e" stroke-width="0.07">1.0</text>
<line x1="310.50" y1="146.70" x2="310.50" y2="149.70" stroke="#262626" stroke-width="1"/>
<text x="310.30" y="158.50" font-size="5.8" text-anchor="middle" font-weight="normal" fill="#1e1e1e" textLength="3.87" lengthAdjust="spacingAndGlyphs" stroke="#1e1e1e" stroke-width="0.07">0</text>
<line x1="337.50" y1="146.70" x2="337.50" y2="149.70" stroke="#262626" stroke-width="1"/>
<text x="337.60" y="158.50" font-size="5.8" text-anchor="middle" font-weight="normal" fill="#1e1e1e" textLength="3.87" lengthAdjust="spacingAndGlyphs" stroke="#1e1e1e" stroke-width="0.07">6</text>
<line x1="364.50" y1="146.70" x2="364.50" y2="149.70" stroke="#262626" stroke-width="1"/>
<text x="364.90" y="158.50" font-size="5.8" text-anchor="middle" font-weight="normal" fill="#1e1e1e" textLength="7.74" lengthAdjust="spacingAndGlyphs" stroke="#1e1e1e" stroke-width="0.07">12</text>
<line x1="392.50" y1="146.70" x2="392.50" y2="149.70" stroke="#262626" stroke-width="1"/>
<text x="392.20" y="158.50" font-size="5.8" text-anchor="middle" font-weight="normal" fill="#1e1e1e" textLength="7.74" lengthAdjust="spacingAndGlyphs" stroke="#1e1e1e" stroke-width="0.07">18</text>
<line x1="419.50" y1="146.70" x2="419.50" y2="149.70" stroke="#262626" stroke-width="1"/>
<text x="419.50" y="158.50" font-size="5.8" text-anchor="middle" font-weight="normal" fill="#1e1e1e" textLength="7.74" lengthAdjust="spacingAndGlyphs" stroke="#1e1e1e" stroke-width="0.07">24</text>
<line x1="446.50" y1="146.70" x2="446.50" y2="149.70" stroke="#262626" stroke-width="1"/>
<text x="446.80" y="158.50" font-size="5.8" text-anchor="middle" font-weight="normal" fill="#1e1e1e" textLength="7.74" lengthAdjust="spacingAndGlyphs" stroke="#1e1e1e" stroke-width="0.07">30</text>
<line x1="474.50" y1="146.70" x2="474.50" y2="149.70" stroke="#262626" stroke-width="1"/>
<text x="474.10" y="158.50" font-size="5.8" text-anchor="middle" font-weight="normal" fill="#1e1e1e" textLength="7.74" lengthAdjust="spacingAndGlyphs" stroke="#1e1e1e" stroke-width="0.07">36</text>
<line x1="501.50" y1="146.70" x2="501.50" y2="149.70" stroke="#262626" stroke-width="1"/>
<text x="501.40" y="158.50" font-size="5.8" text-anchor="middle" font-weight="normal" fill="#1e1e1e" textLength="7.74" lengthAdjust="spacingAndGlyphs" stroke="#1e1e1e" stroke-width="0.07">42</text>
<text x="310.30" y="139.40" font-size="4.6" text-anchor="middle" font-weight="normal" fill="#1e1e1e" textLength="6.24" lengthAdjust="spacingAndGlyphs" stroke="#1e1e1e" stroke-width="0.07">60</text>
<text x="337.60" y="139.40" font-size="4.6" text-anchor="middle" font-weight="normal" fill="#1e1e1e" textLength="6.24" lengthAdjust="spacingAndGlyphs" stroke="#1e1e1e" stroke-width="0.07">19</text>
<text x="364.90" y="139.40" font-size="4.6" text-anchor="middle" font-weight="normal" fill="#1e1e1e" textLength="6.24" lengthAdjust="spacingAndGlyphs" stroke="#1e1e1e" stroke-width="0.07">12</text>
<text x="392.20" y="139.40" font-size="4.6" text-anchor="middle" font-weight="normal" fill="#1e1e1e" textLength="3.12" lengthAdjust="spacingAndGlyphs" stroke="#1e1e1e" stroke-width="0.07">8</text>
<text x="419.50" y="139.40" font-size="4.6" text-anchor="middle" font-weight="normal" fill="#1e1e1e" textLength="3.12" lengthAdjust="spacingAndGlyphs" stroke="#1e1e1e" stroke-width="0.07">4</text>
<text x="446.80" y="139.40" font-size="4.6" text-anchor="middle" font-weight="normal" fill="#1e1e1e" textLength="3.12" lengthAdjust="spacingAndGlyphs" stroke="#1e1e1e" stroke-width="0.07">1</text>
<text x="474.10" y="139.40" font-size="4.6" text-anchor="middle" font-weight="normal" fill="#1e1e1e" textLength="3.12" lengthAdjust="spacingAndGlyphs" stroke="#1e1e1e" stroke-width="0.07">0</text>
<text x="310.30" y="145.40" font-size="4.6" text-anchor="middle" font-weight="normal" fill="#1e1e1e" textLength="9.36" lengthAdjust="spacingAndGlyphs" stroke="#1e1e1e" stroke-width="0.07">135</text>
<text x="337.60" y="145.40" font-size="4.6" text-anchor="middle" font-weight="normal" fill="#1e1e1e" textLength="6.24" lengthAdjust="spacingAndGlyphs" stroke="#1e1e1e" stroke-width="0.07">48</text>
<text x="364.90" y="145.40" font-size="4.6" text-anchor="middle" font-weight="normal" fill="#1e1e1e" textLength="6.24" lengthAdjust="spacingAndGlyphs" stroke="#1e1e1e" stroke-width="0.07">36</text>
<text x="392.20" y="145.40" font-size="4.6" text-anchor="middle" font-weight="normal" fill="#1e1e1e" textLength="6.24" lengthAdjust="spacingAndGlyphs" stroke="#1e1e1e" stroke-width="0.07">29</text>
<text x="419.50" y="145.40" font-size="4.6" text-anchor="middle" font-weight="normal" fill="#1e1e1e" textLength="6.24" lengthAdjust="spacingAndGlyphs" stroke="#1e1e1e" stroke-width="0.07">18</text>
<text x="446.80" y="145.40" font-size="4.6" text-anchor="middle" font-weight="normal" fill="#1e1e1e" textLength="3.12" lengthAdjust="spacingAndGlyphs" stroke="#1e1e1e" stroke-width="0.07">6</text>
<text x="474.10" y="145.40" font-size="4.6" text-anchor="middle" font-weight="normal" fill="#1e1e1e" textLength="3.12" lengthAdjust="spacingAndGlyphs" stroke="#1e1e1e" stroke-width="0.07">3</text>
<text x="501.40" y="145.40" font-size="4.6" text-anchor="middle" font-weight="normal" fill="#1e1e1e" textLength="3.12" lengthAdjust="spacingAndGlyphs" stroke="#1e1e1e" stroke-width="0.07">0</text>
<text x="295.90" y="139.40" font-size="5.0" text-anchor="end" font-weight="normal" fill="#1e1e1e" textLength="14.5" lengthAdjust="spacingAndGlyphs" stroke="#1e1e1e" stroke-width="0.07">HGBL</text>
<text x="295.90" y="145.40" font-size="5.0" text-anchor="end" font-weight="normal" fill="#1e1e1e" textLength="25.5" lengthAdjust="spacingAndGlyphs" stroke="#1e1e1e" stroke-width="0.07">Non HGBL</text>
<text x="0" y="0" font-size="7.4" font-weight="bold" text-anchor="middle" fill-opacity="0.9" fill="#1e1e1e" transform="translate(279.50,86.00) rotate(-90)" textLength="48" lengthAdjust="spacingAndGlyphs">Survival probability</text>
<text x="403.50" y="169.80" font-size="8.0" text-anchor="middle" font-weight="bold" fill="#2a2a2a" textLength="97" lengthAdjust="spacingAndGlyphs">PFS since 1st administration (months)</text>
<text x="274.30" y="15.70" font-size="10.2" text-anchor="middle" font-weight="bold" fill="#000" stroke="#000" stroke-width="0.35">B</text>
<text x="403.50" y="13.60" font-size="8.4" text-anchor="middle" font-weight="normal" fill="#1e1e1e" textLength="150" lengthAdjust="spacingAndGlyphs" stroke="#1e1e1e" stroke-width="0.07">PFS since infusion - HGBL vs Non HGBL</text>
<text x="403.50" y="21.00" font-size="6.5" text-anchor="middle" font-weight="normal" fill="#1e1e1e" textLength="163" lengthAdjust="spacingAndGlyphs" stroke="#1e1e1e" stroke-width="0.03">With Number of Subjects at Risk and 95% Confidence Limits</text>
<text x="475.30" y="36.90" font-size="6.4" text-anchor="middle" font-weight="normal" fill="#1e1e1e" textLength="31.5" lengthAdjust="spacingAndGlyphs" stroke="#1e1e1e" stroke-width="0.07">+ Censored</text>
<text x="475.30" y="44.50" font-size="6.5" text-anchor="middle" fill="#1e1e1e" textLength="50.5" lengthAdjust="spacingAndGlyphs">Logrank <tspan font-style="italic">P</tspan> = .1030</text>
<text x="349.10" y="180.20" font-size="6.6" text-anchor="middle" font-weight="normal" fill="#1e1e1e" textLength="42.32" lengthAdjust="spacingAndGlyphs" stroke="#1e1e1e" stroke-width="0.07">No. of Subjects</text>
<text x="389.10" y="180.20" font-size="6.6" text-anchor="middle" font-weight="normal" fill="#1e1e1e" textLength="15.96" lengthAdjust="spacingAndGlyphs" stroke="#1e1e1e" stroke-width="0.07">Event</text>
<text x="424.60" y="180.20" font-size="6.6" text-anchor="middle" font-weight="normal" fill="#1e1e1e" textLength="27.06" lengthAdjust="spacingAndGlyphs" stroke="#1e1e1e" stroke-width="0.07">Censored</text>
<text x="478.20" y="180.20" font-size="6.6" text-anchor="middle" font-weight="normal" fill="#1e1e1e" textLength="70.75" lengthAdjust="spacingAndGlyphs" stroke="#1e1e1e" stroke-width="0.07">Median Survival (95%CL)</text>
<text x="294.60" y="190.00" font-size="6.6" text-anchor="start" font-weight="normal" fill="#1e1e1e" textLength="16.99" lengthAdjust="spacingAndGlyphs" stroke="#1e1e1e" stroke-width="0.07">HGBL</text>
<text x="349.10" y="190.00" font-size="6.6" text-anchor="middle" font-weight="normal" fill="#1e1e1e" textLength="6.94" lengthAdjust="spacingAndGlyphs" stroke="#1e1e1e" stroke-width="0.07">60</text>
<text x="389.10" y="190.00" font-size="6.6" text-anchor="middle" font-weight="normal" fill="#1e1e1e" textLength="32.26" lengthAdjust="spacingAndGlyphs" stroke="#1e1e1e" stroke-width="0.07">68.3 % (41)</text>
<text x="424.60" y="190.00" font-size="6.6" text-anchor="middle" font-weight="normal" fill="#1e1e1e" textLength="32.26" lengthAdjust="spacingAndGlyphs" stroke="#1e1e1e" stroke-width="0.07">31.7 % (19)</text>
<text x="478.20" y="190.00" font-size="6.6" text-anchor="middle" font-weight="normal" fill="#1e1e1e" textLength="31.91" lengthAdjust="spacingAndGlyphs" stroke="#1e1e1e" stroke-width="0.07">3.2 (2.8 ; 6)</text>
<text x="294.60" y="199.60" font-size="6.6" text-anchor="start" font-weight="normal" fill="#1e1e1e" textLength="30.17" lengthAdjust="spacingAndGlyphs" stroke="#1e1e1e" stroke-width="0.07">Non HGBL</text>
<text x="349.10" y="199.60" font-size="6.6" text-anchor="middle" font-weight="normal" fill="#1e1e1e" textLength="10.41" lengthAdjust="spacingAndGlyphs" stroke="#1e1e1e" stroke-width="0.07">135</text>
<text x="389.10" y="199.60" font-size="6.6" text-anchor="middle" font-weight="normal" fill="#1e1e1e" textLength="32.26" lengthAdjust="spacingAndGlyphs" stroke="#1e1e1e" stroke-width="0.07">59.3 % (80)</text>
<text x="424.60" y="199.60" font-size="6.6" text-anchor="middle" font-weight="normal" fill="#1e1e1e" textLength="32.26" lengthAdjust="spacingAndGlyphs" stroke="#1e1e1e" stroke-width="0.07">40.7 % (55)</text>
<text x="478.20" y="199.60" font-size="6.6" text-anchor="middle" font-weight="normal" fill="#1e1e1e" textLength="37.11" lengthAdjust="spacingAndGlyphs" stroke="#1e1e1e" stroke-width="0.07">4.5 (3.1 ; 8.7)</text>
<line x1="359.10" y1="208.00" x2="373.40" y2="208.00" stroke="#b81c2c" stroke-width="1.1" stroke-opacity="0.75"/>
<text x="375.80" y="210.00" font-size="6.3" text-anchor="start" font-weight="normal" fill="#1e1e1e" textLength="17.81" lengthAdjust="spacingAndGlyphs" stroke="#1e1e1e" stroke-width="0.07">HGBL</text>
<line x1="400.10" y1="208.00" x2="414.80" y2="208.00" stroke="#1f3763" stroke-width="1.1" stroke-opacity="0.75"/>
<text x="418.80" y="210.00" font-size="6.3" text-anchor="start" font-weight="normal" fill="#1e1e1e" textLength="30.75" lengthAdjust="spacingAndGlyphs" stroke="#1e1e1e" stroke-width="0.07">Non HGBL</text>
<path d="M46.00,257.90 L47.08,257.90 L47.08,258.25 L49.22,258.25 L49.22,258.60 L50.30,258.60 L50.30,258.60 L51.41,258.60 L51.41,261.00 L53.64,261.00 L53.64,263.40 L55.86,263.40 L55.86,265.80 L58.09,265.80 L58.09,268.20 L59.20,268.20 L59.20,268.20 L60.42,268.20 L60.42,271.13 L62.85,271.13 L62.85,274.07 L65.28,274.07 L65.28,277.00 L66.50,277.00 L66.50,277.00 L67.42,277.00 L67.42,279.50 L69.28,279.50 L69.28,282.00 L71.12,282.00 L71.12,284.50 L72.98,284.50 L72.98,287.00 L73.90,287.00 L73.90,287.00 L75.13,287.00 L75.13,289.00 L77.60,289.00 L77.60,291.00 L80.07,291.00 L80.07,293.00 L81.30,293.00 L81.30,293.00 L82.59,293.00 L82.59,293.75 L85.16,293.75 L85.16,294.50 L87.74,294.50 L87.74,295.25 L90.31,295.25 L90.31,296.00 L91.60,296.00 L91.60,296.00 L92.89,296.00 L92.89,296.62 L95.46,296.62 L95.46,297.25 L98.04,297.25 L98.04,297.88 L100.61,297.88 L100.61,298.50 L101.90,298.50 L101.90,298.50 L103.25,298.50 L103.25,299.07 L105.95,299.07 L105.95,299.63 L108.65,299.63 L108.65,300.20 L110.00,300.20 L110.00,300.20 L111.33,300.20 L111.33,301.73 L114.00,301.73 L114.00,303.27 L116.67,303.27 L116.67,304.80 L118.00,304.80 L118.00,304.80 L150.40,304.80 L150.40,308.50 L216.20,308.50 L216.20,308.50 L216.20,332.00 L216.20,332.00 L150.40,332.00 L150.40,330.80 L150.40,330.80 L150.40,330.80 L149.09,330.80 L149.09,330.33 L146.46,330.33 L146.46,329.85 L143.83,329.85 L143.83,329.38 L141.20,329.38 L141.20,328.91 L138.58,328.91 L138.58,328.44 L135.95,328.44 L135.95,327.96 L133.32,327.96 L133.32,327.49 L130.70,327.49 L130.70,327.02 L128.07,327.02 L128.07,326.55 L125.44,326.55 L125.44,326.07 L122.81,326.07 L122.81,325.60 L121.50,325.60 L121.50,325.60 L120.28,325.60 L120.28,324.95 L117.83,324.95 L117.83,324.30 L115.38,324.30 L115.38,323.65 L112.92,323.65 L112.92,323.00 L110.48,323.00 L110.48,322.35 L108.03,322.35 L108.03,321.70 L105.58,321.70 L105.58,321.05 L103.12,321.05 L103.12,320.40 L101.90,320.40 L101.90,320.40 L100.75,320.40 L100.75,319.60 L98.45,319.60 L98.45,318.80 L96.15,318.80 L96.15,318.00 L95.00,318.00 L95.00,318.00 L94.15,318.00 L94.15,316.00 L92.45,316.00 L92.45,314.00 L91.60,314.00 L91.60,314.00 L90.38,314.00 L90.38,313.00 L87.92,313.00 L87.92,312.00 L85.47,312.00 L85.47,311.00 L83.03,311.00 L83.03,310.00 L80.58,310.00 L80.58,309.00 L78.12,309.00 L78.12,308.00 L76.90,308.00 L76.90,308.00 L76.21,308.00 L76.21,305.60 L74.83,305.60 L74.83,303.20 L73.45,303.20 L73.45,300.80 L72.07,300.80 L72.07,298.40 L70.69,298.40 L70.69,296.00 L70.00,296.00 L70.00,296.00 L69.00,296.00 L69.00,293.25 L67.00,293.25 L67.00,290.50 L65.00,290.50 L65.00,287.75 L63.00,287.75 L63.00,285.00 L62.00,285.00 L62.00,285.00 L61.13,285.00 L61.13,282.40 L59.39,282.40 L59.39,279.80 L57.65,279.80 L57.65,277.20 L55.91,277.20 L55.91,274.60 L54.17,274.60 L54.17,272.00 L53.30,272.00 L53.30,272.00 L52.57,272.00 L52.57,269.20 L51.11,269.20 L51.11,266.40 L49.65,266.40 L49.65,263.60 L48.19,263.60 L48.19,260.80 L46.73,260.80 L46.73,258.00 L46.00,258.00 Z" fill="rgba(102,113,163,0.37)" stroke="none"/>
<path d="M46.00,257.90 L47.08,257.90 L47.08,259.45 L49.22,259.45 L49.22,261.00 L50.30,261.00 L50.30,261.00 L51.41,261.00 L51.41,263.43 L53.64,263.43 L53.64,265.85 L55.86,265.85 L55.86,268.27 L58.09,268.27 L58.09,270.70 L59.20,270.70 L59.20,270.70 L60.42,270.70 L60.42,273.63 L62.85,273.63 L62.85,276.57 L65.28,276.57 L65.28,279.50 L66.50,279.50 L66.50,279.50 L67.42,279.50 L67.42,282.00 L69.28,282.00 L69.28,284.50 L71.12,284.50 L71.12,287.00 L72.98,287.00 L72.98,289.50 L73.90,289.50 L73.90,289.50 L75.13,289.50 L75.13,291.33 L77.60,291.33 L77.60,293.17 L80.07,293.17 L80.07,295.00 L81.30,295.00 L81.30,295.00 L82.59,295.00 L82.59,295.68 L85.16,295.68 L85.16,296.35 L87.74,296.35 L87.74,297.02 L90.31,297.02 L90.31,297.70 L91.60,297.70 L91.60,297.70 L93.00,297.70 L93.00,298.20 L95.80,298.20 L95.80,298.70 L98.60,298.70 L98.60,299.20 L100.00,299.20 L100.00,299.20 L101.25,299.20 L101.25,300.15 L103.75,300.15 L103.75,301.10 L106.25,301.10 L106.25,302.05 L108.75,302.05 L108.75,303.00 L110.00,303.00 L110.00,303.00 L111.44,303.00 L111.44,303.50 L114.31,303.50 L114.31,304.00 L117.19,304.00 L117.19,304.50 L120.06,304.50 L120.06,305.00 L121.50,305.00 L121.50,305.00 L150.40,305.00 L150.40,307.70 L159.60,307.70 L159.60,312.50 L166.50,312.50 L166.50,321.00 L173.50,321.00 L173.50,321.00 L173.50,355.80 L173.50,355.80 L166.50,355.80 L166.50,348.80 L159.60,348.80 L159.60,337.70 L150.40,337.70 L150.40,337.70 L121.50,337.70 L121.50,333.00 L101.30,333.00 L101.30,323.80 L95.00,323.80 L95.00,323.80 L93.42,323.80 L93.42,322.55 L90.28,322.55 L90.28,321.30 L88.70,321.30 L88.70,321.30 L87.40,321.30 L87.40,320.20 L84.80,320.20 L84.80,319.10 L82.20,319.10 L82.20,318.00 L79.60,318.00 L79.60,316.90 L78.30,316.90 L78.30,316.90 L76.83,316.90 L76.83,314.93 L73.90,314.93 L73.90,312.97 L70.97,312.97 L70.97,311.00 L69.50,311.00 L69.50,311.00 L68.76,311.00 L68.76,308.64 L67.28,308.64 L67.28,306.28 L65.80,306.28 L65.80,303.92 L64.32,303.92 L64.32,301.56 L62.84,301.56 L62.84,299.20 L62.10,299.20 L62.10,299.20 L61.22,299.20 L61.22,296.84 L59.46,296.84 L59.46,294.48 L57.70,294.48 L57.70,292.12 L55.94,292.12 L55.94,289.76 L54.18,289.76 L54.18,287.40 L53.30,287.40 L53.30,287.40 L52.88,287.40 L52.88,284.81 L52.04,284.81 L52.04,282.22 L51.21,282.22 L51.21,279.64 L50.37,279.64 L50.37,277.05 L49.53,277.05 L49.53,274.46 L48.69,274.46 L48.69,271.88 L47.86,271.88 L47.86,269.29 L47.02,269.29 L47.02,266.70 L46.60,266.70 L46.60,266.70 L46.50,266.70 L46.50,264.13 L46.30,264.13 L46.30,261.57 L46.10,261.57 L46.10,259.00 L46.00,259.00 Z" fill="rgba(229,110,84,0.38)" stroke="none"/>
<path d="M46.00,257.90 L47.08,257.90 L47.08,259.35 L49.22,259.35 L49.22,260.80 L50.30,260.80 L50.30,260.80 L50.80,260.80 L50.80,263.27 L51.80,263.27 L51.80,265.73 L52.80,265.73 L52.80,268.20 L53.30,268.20 L53.30,268.20 L54.28,268.20 L54.28,270.67 L56.25,270.67 L56.25,273.13 L58.22,273.13 L58.22,275.60 L59.20,275.60 L59.20,275.60 L60.30,275.60 L60.30,278.55 L62.50,278.55 L62.50,281.50 L63.60,281.50 L63.60,281.50 L64.53,281.50 L64.53,283.70 L66.38,283.70 L66.38,285.90 L67.30,285.90 L67.30,285.90 L67.85,285.90 L67.85,288.85 L68.95,288.85 L68.95,291.80 L69.50,291.80 L69.50,291.80 L70.60,291.80 L70.60,294.75 L72.80,294.75 L72.80,297.70 L73.90,297.70 L73.90,297.70 L75.00,297.70 L75.00,299.90 L77.20,299.90 L77.20,302.10 L78.30,302.10 L78.30,302.10 L79.78,302.10 L79.78,303.25 L82.72,303.25 L82.72,304.40 L84.20,304.40 L84.20,304.40 L85.43,304.40 L85.43,305.13 L87.90,305.13 L87.90,305.87 L90.37,305.87 L90.37,306.60 L91.60,306.60 L91.60,306.60 L92.89,306.60 L92.89,306.88 L95.46,306.88 L95.46,307.15 L98.04,307.15 L98.04,307.43 L100.61,307.43 L100.61,307.70 L101.90,307.70 L101.90,307.70 L103.25,307.70 L103.25,308.27 L105.95,308.27 L105.95,308.83 L108.65,308.83 L108.65,309.40 L110.00,309.40 L110.00,309.40 L110.60,309.40 L110.60,312.30 L111.20,312.30 L111.20,312.30 L112.62,312.30 L112.62,312.60 L115.48,312.60 L115.48,312.90 L116.90,312.90 L116.90,312.90 L117.80,312.90 L117.80,315.20 L118.70,315.20 L118.70,315.20 L150.40,315.20 L150.40,315.20 L151.00,315.20 L151.00,320.20 L216.20,320.20 L216.20,320.20" fill="none" stroke="#1f3763" stroke-width="1.3" stroke-linejoin="miter"/>
<path d="M46.00,259.40 L46.58,259.40 L46.58,261.76 L47.74,261.76 L47.74,264.12 L48.90,264.12 L48.90,266.48 L50.06,266.48 L50.06,268.84 L51.22,268.84 L51.22,271.20 L51.80,271.20 L51.80,271.20 L52.53,271.20 L52.53,273.63 L54.00,273.63 L54.00,276.07 L55.47,276.07 L55.47,278.50 L56.20,278.50 L56.20,278.50 L56.93,278.50 L56.93,281.47 L58.40,281.47 L58.40,284.43 L59.87,284.43 L59.87,287.40 L60.60,287.40 L60.60,287.40 L61.35,287.40 L61.35,290.35 L62.85,290.35 L62.85,293.30 L63.60,293.30 L63.60,293.30 L64.70,293.30 L64.70,295.50 L66.90,295.50 L66.90,297.70 L68.00,297.70 L68.00,297.70 L69.10,297.70 L69.10,299.20 L71.30,299.20 L71.30,300.70 L72.40,300.70 L72.40,300.70 L73.53,300.70 L73.53,302.15 L75.78,302.15 L75.78,303.60 L76.90,303.60 L76.90,303.60 L78.12,303.60 L78.12,304.60 L80.55,304.60 L80.55,305.60 L82.98,305.60 L82.98,306.60 L84.20,306.60 L84.20,306.60 L85.67,306.60 L85.67,307.70 L88.62,307.70 L88.62,308.80 L90.10,308.80 L90.10,308.80 L99.60,308.80 L99.60,308.80 L99.88,308.80 L99.88,311.13 L100.45,311.13 L100.45,313.47 L101.02,313.47 L101.02,315.80 L101.30,315.80 L101.30,315.80 L102.20,315.80 L102.20,318.70 L103.10,318.70 L103.10,318.70 L121.00,318.70 L121.00,318.70 L121.50,318.70 L121.50,322.70 L159.60,322.70 L159.60,323.00 L160.80,323.00 L160.80,331.50 L166.50,331.50 L166.50,331.50 L166.50,331.50 L166.50,341.20 L173.50,341.20 L173.50,341.20" fill="none" stroke="#b81c2c" stroke-width="1.3" stroke-linejoin="miter"/>
<path d="M126.80,315.20H129.20M128.00,314.00V316.40M129.80,315.20H132.20M131.00,314.00V316.40M132.80,315.20H135.20M134.00,314.00V316.40M135.80,315.20H138.20M137.00,314.00V316.40M138.80,315.20H141.20M140.00,314.00V316.40" stroke="#1f3763" stroke-width="1.0" fill="none"/>
<path d="M168.80,320.00H171.20M170.00,318.80V321.20M171.80,320.00H174.20M173.00,318.80V321.20M175.80,320.00H178.20M177.00,318.80V321.20M179.80,320.00H182.20M181.00,318.80V321.20M185.80,320.00H188.20M187.00,318.80V321.20" stroke="#1f3763" stroke-width="1.0" fill="none"/>
<path d="M125.80,322.70H128.20M127.00,321.50V323.90M129.80,322.70H132.20M131.00,321.50V323.90" stroke="#b81c2c" stroke-width="1.0" fill="none"/>
<path d="M172.30,341.20H174.70M173.50,340.00V342.40" stroke="#b81c2c" stroke-width="1.0" fill="none"/>
<path d="M35.20,256.50 V376.70 H242.60" fill="none" stroke="#383838" stroke-width="1.5"/>
<line x1="32.00" y1="361.50" x2="35.20" y2="361.50" stroke="#262626" stroke-width="1"/>
<text x="28.90" y="363.40" font-size="6.5" text-anchor="end" font-weight="normal" fill="#1e1e1e" textLength="9.48" lengthAdjust="spacingAndGlyphs" stroke="#1e1e1e" stroke-width="0.07">0.0</text>
<line x1="32.00" y1="340.50" x2="35.20" y2="340.50" stroke="#262626" stroke-width="1"/>
<text x="28.90" y="342.70" font-size="6.5" text-anchor="end" font-weight="normal" fill="#1e1e1e" textLength="9.48" lengthAdjust="spacingAndGlyphs" stroke="#1e1e1e" stroke-width="0.07">0.2</text>
<line x1="32.00" y1="319.50" x2="35.20" y2="319.50" stroke="#262626" stroke-width="1"/>
<text x="28.90" y="322.00" font-size="6.5" text-anchor="end" font-weight="normal" fill="#1e1e1e" textLength="9.48" lengthAdjust="spacingAndGlyphs" stroke="#1e1e1e" stroke-width="0.07">0.4</text>
<line x1="32.00" y1="299.50" x2="35.20" y2="299.50" stroke="#262626" stroke-width="1"/>
<text x="28.90" y="301.30" font-size="6.5" text-anchor="end" font-weight="normal" fill="#1e1e1e" textLength="9.48" lengthAdjust="spacingAndGlyphs" stroke="#1e1e1e" stroke-width="0.07">0.6</text>
<line x1="32.00" y1="278.50" x2="35.20" y2="278.50" stroke="#262626" stroke-width="1"/>
<text x="28.90" y="280.60" font-size="6.5" text-anchor="end" font-weight="normal" fill="#1e1e1e" textLength="9.48" lengthAdjust="spacingAndGlyphs" stroke="#1e1e1e" stroke-width="0.07">0.8</text>
<line x1="32.00" y1="257.50" x2="35.20" y2="257.50" stroke="#262626" stroke-width="1"/>
<text x="28.90" y="259.90" font-size="6.5" text-anchor="end" font-weight="normal" fill="#1e1e1e" textLength="9.48" lengthAdjust="spacingAndGlyphs" stroke="#1e1e1e" stroke-width="0.07">1.0</text>
<line x1="45.50" y1="376.70" x2="45.50" y2="379.70" stroke="#262626" stroke-width="1"/>
<text x="45.50" y="388.50" font-size="5.8" text-anchor="middle" font-weight="normal" fill="#1e1e1e" textLength="3.87" lengthAdjust="spacingAndGlyphs" stroke="#1e1e1e" stroke-width="0.07">0</text>
<line x1="66.50" y1="376.70" x2="66.50" y2="379.70" stroke="#262626" stroke-width="1"/>
<text x="66.80" y="388.50" font-size="5.8" text-anchor="middle" font-weight="normal" fill="#1e1e1e" textLength="3.87" lengthAdjust="spacingAndGlyphs" stroke="#1e1e1e" stroke-width="0.07">6</text>
<line x1="88.50" y1="376.70" x2="88.50" y2="379.70" stroke="#262626" stroke-width="1"/>
<text x="88.10" y="388.50" font-size="5.8" text-anchor="middle" font-weight="normal" fill="#1e1e1e" textLength="7.74" lengthAdjust="spacingAndGlyphs" stroke="#1e1e1e" stroke-width="0.07">12</text>
<line x1="109.50" y1="376.70" x2="109.50" y2="379.70" stroke="#262626" stroke-width="1"/>
<text x="109.40" y="388.50" font-size="5.8" text-anchor="middle" font-weight="normal" fill="#1e1e1e" textLength="7.74" lengthAdjust="spacingAndGlyphs" stroke="#1e1e1e" stroke-width="0.07">18</text>
<line x1="130.50" y1="376.70" x2="130.50" y2="379.70" stroke="#262626" stroke-width="1"/>
<text x="130.70" y="388.50" font-size="5.8" text-anchor="middle" font-weight="normal" fill="#1e1e1e" textLength="7.74" lengthAdjust="spacingAndGlyphs" stroke="#1e1e1e" stroke-width="0.07">24</text>
<line x1="152.50" y1="376.70" x2="152.50" y2="379.70" stroke="#262626" stroke-width="1"/>
<text x="152.00" y="388.50" font-size="5.8" text-anchor="middle" font-weight="normal" fill="#1e1e1e" textLength="7.74" lengthAdjust="spacingAndGlyphs" stroke="#1e1e1e" stroke-width="0.07">30</text>
<line x1="173.50" y1="376.70" x2="173.50" y2="379.70" stroke="#262626" stroke-width="1"/>
<text x="173.30" y="388.50" font-size="5.8" text-anchor="middle" font-weight="normal" fill="#1e1e1e" textLength="7.74" lengthAdjust="spacingAndGlyphs" stroke="#1e1e1e" stroke-width="0.07">36</text>
<line x1="194.50" y1="376.70" x2="194.50" y2="379.70" stroke="#262626" stroke-width="1"/>
<text x="194.60" y="388.50" font-size="5.8" text-anchor="middle" font-weight="normal" fill="#1e1e1e" textLength="7.74" lengthAdjust="spacingAndGlyphs" stroke="#1e1e1e" stroke-width="0.07">42</text>
<line x1="215.50" y1="376.70" x2="215.50" y2="379.70" stroke="#262626" stroke-width="1"/>
<text x="215.90" y="388.50" font-size="5.8" text-anchor="middle" font-weight="normal" fill="#1e1e1e" textLength="7.74" lengthAdjust="spacingAndGlyphs" stroke="#1e1e1e" stroke-width="0.07">48</text>
<line x1="237.50" y1="376.70" x2="237.50" y2="379.70" stroke="#262626" stroke-width="1"/>
<text x="237.20" y="388.50" font-size="5.8" text-anchor="middle" font-weight="normal" fill="#1e1e1e" textLength="7.74" lengthAdjust="spacingAndGlyphs" stroke="#1e1e1e" stroke-width="0.07">54</text>
<text x="45.50" y="369.40" font-size="4.6" text-anchor="middle" font-weight="normal" fill="#1e1e1e" textLength="6.24" lengthAdjust="spacingAndGlyphs" stroke="#1e1e1e" stroke-width="0.07">60</text>
<text x="66.80" y="369.40" font-size="4.6" text-anchor="middle" font-weight="normal" fill="#1e1e1e" textLength="6.24" lengthAdjust="spacingAndGlyphs" stroke="#1e1e1e" stroke-width="0.07">30</text>
<text x="88.10" y="369.40" font-size="4.6" text-anchor="middle" font-weight="normal" fill="#1e1e1e" textLength="6.24" lengthAdjust="spacingAndGlyphs" stroke="#1e1e1e" stroke-width="0.07">19</text>
<text x="109.40" y="369.40" font-size="4.6" text-anchor="middle" font-weight="normal" fill="#1e1e1e" textLength="6.24" lengthAdjust="spacingAndGlyphs" stroke="#1e1e1e" stroke-width="0.07">12</text>
<text x="130.70" y="369.40" font-size="4.6" text-anchor="middle" font-weight="normal" fill="#1e1e1e" textLength="3.12" lengthAdjust="spacingAndGlyphs" stroke="#1e1e1e" stroke-width="0.07">7</text>
<text x="152.00" y="369.40" font-size="4.6" text-anchor="middle" font-weight="normal" fill="#1e1e1e" textLength="3.12" lengthAdjust="spacingAndGlyphs" stroke="#1e1e1e" stroke-width="0.07">4</text>
<text x="173.30" y="369.40" font-size="4.6" text-anchor="middle" font-weight="normal" fill="#1e1e1e" textLength="3.12" lengthAdjust="spacingAndGlyphs" stroke="#1e1e1e" stroke-width="0.07">0</text>
<text x="45.50" y="375.40" font-size="4.6" text-anchor="middle" font-weight="normal" fill="#1e1e1e" textLength="9.36" lengthAdjust="spacingAndGlyphs" stroke="#1e1e1e" stroke-width="0.07">135</text>
<text x="66.80" y="375.40" font-size="4.6" text-anchor="middle" font-weight="normal" fill="#1e1e1e" textLength="6.24" lengthAdjust="spacingAndGlyphs" stroke="#1e1e1e" stroke-width="0.07">60</text>
<text x="88.10" y="375.40" font-size="4.6" text-anchor="middle" font-weight="normal" fill="#1e1e1e" textLength="6.24" lengthAdjust="spacingAndGlyphs" stroke="#1e1e1e" stroke-width="0.07">48</text>
<text x="109.40" y="375.40" font-size="4.6" text-anchor="middle" font-weight="normal" fill="#1e1e1e" textLength="6.24" lengthAdjust="spacingAndGlyphs" stroke="#1e1e1e" stroke-width="0.07">39</text>
<text x="130.70" y="375.40" font-size="4.6" text-anchor="middle" font-weight="normal" fill="#1e1e1e" textLength="6.24" lengthAdjust="spacingAndGlyphs" stroke="#1e1e1e" stroke-width="0.07">22</text>
<text x="152.00" y="375.40" font-size="4.6" text-anchor="middle" font-weight="normal" fill="#1e1e1e" textLength="3.12" lengthAdjust="spacingAndGlyphs" stroke="#1e1e1e" stroke-width="0.07">9</text>
<text x="173.30" y="375.40" font-size="4.6" text-anchor="middle" font-weight="normal" fill="#1e1e1e" textLength="3.12" lengthAdjust="spacingAndGlyphs" stroke="#1e1e1e" stroke-width="0.07">6</text>
<text x="194.60" y="375.40" font-size="4.6" text-anchor="middle" font-weight="normal" fill="#1e1e1e" textLength="3.12" lengthAdjust="spacingAndGlyphs" stroke="#1e1e1e" stroke-width="0.07">1</text>
<text x="215.90" y="375.40" font-size="4.6" text-anchor="middle" font-weight="normal" fill="#1e1e1e" textLength="3.12" lengthAdjust="spacingAndGlyphs" stroke="#1e1e1e" stroke-width="0.07">1</text>
<text x="237.20" y="375.40" font-size="4.6" text-anchor="middle" font-weight="normal" fill="#1e1e1e" textLength="3.12" lengthAdjust="spacingAndGlyphs" stroke="#1e1e1e" stroke-width="0.07">0</text>
<text x="31.80" y="369.40" font-size="5.0" text-anchor="end" font-weight="normal" fill="#1e1e1e" textLength="14.5" lengthAdjust="spacingAndGlyphs" stroke="#1e1e1e" stroke-width="0.07">HGBL</text>
<text x="31.80" y="375.40" font-size="5.0" text-anchor="end" font-weight="normal" fill="#1e1e1e" textLength="25.5" lengthAdjust="spacingAndGlyphs" stroke="#1e1e1e" stroke-width="0.07">Non HGBL</text>
<text x="0" y="0" font-size="7.4" font-weight="bold" text-anchor="middle" fill-opacity="0.9" fill="#1e1e1e" transform="translate(14.40,316.00) rotate(-90)" textLength="48" lengthAdjust="spacingAndGlyphs">Survival probability</text>
<text x="138.60" y="399.80" font-size="8.0" text-anchor="middle" font-weight="bold" fill="#2a2a2a" textLength="94" lengthAdjust="spacingAndGlyphs">OS since 1st administration (months)</text>
<text x="10.80" y="245.30" font-size="10.2" text-anchor="middle" font-weight="bold" fill="#000" stroke="#000" stroke-width="0.35">C</text>
<text x="139.20" y="243.60" font-size="8.4" text-anchor="middle" font-weight="normal" fill="#1e1e1e" textLength="147" lengthAdjust="spacingAndGlyphs" stroke="#1e1e1e" stroke-width="0.07">OS since infusion - HGBL vs Non HGBL</text>
<text x="139.20" y="251.00" font-size="6.5" text-anchor="middle" font-weight="normal" fill="#1e1e1e" textLength="162.5" lengthAdjust="spacingAndGlyphs" stroke="#1e1e1e" stroke-width="0.03">With Number of Subjects at Risk and 95% Confidence Limits</text>
<text x="214.20" y="266.90" font-size="6.4" text-anchor="middle" font-weight="normal" fill="#1e1e1e" textLength="31.5" lengthAdjust="spacingAndGlyphs" stroke="#1e1e1e" stroke-width="0.07">+ Censored</text>
<text x="214.20" y="274.50" font-size="6.5" text-anchor="middle" fill="#1e1e1e" textLength="50.5" lengthAdjust="spacingAndGlyphs">Logrank <tspan font-style="italic">P</tspan> = .2143</text>
<text x="84.50" y="410.20" font-size="6.6" text-anchor="middle" font-weight="normal" fill="#1e1e1e" textLength="42.32" lengthAdjust="spacingAndGlyphs" stroke="#1e1e1e" stroke-width="0.07">No. of Subjects</text>
<text x="124.50" y="410.20" font-size="6.6" text-anchor="middle" font-weight="normal" fill="#1e1e1e" textLength="15.96" lengthAdjust="spacingAndGlyphs" stroke="#1e1e1e" stroke-width="0.07">Event</text>
<text x="160.00" y="410.20" font-size="6.6" text-anchor="middle" font-weight="normal" fill="#1e1e1e" textLength="27.06" lengthAdjust="spacingAndGlyphs" stroke="#1e1e1e" stroke-width="0.07">Censored</text>
<text x="213.60" y="410.20" font-size="6.6" text-anchor="middle" font-weight="normal" fill="#1e1e1e" textLength="70.75" lengthAdjust="spacingAndGlyphs" stroke="#1e1e1e" stroke-width="0.07">Median Survival (95%CL)</text>
<text x="30.00" y="420.00" font-size="6.6" text-anchor="start" font-weight="normal" fill="#1e1e1e" textLength="16.99" lengthAdjust="spacingAndGlyphs" stroke="#1e1e1e" stroke-width="0.07">HGBL</text>
<text x="84.50" y="420.00" font-size="6.6" text-anchor="middle" font-weight="normal" fill="#1e1e1e" textLength="6.94" lengthAdjust="spacingAndGlyphs" stroke="#1e1e1e" stroke-width="0.07">60</text>
<text x="124.50" y="420.00" font-size="6.6" text-anchor="middle" font-weight="normal" fill="#1e1e1e" textLength="32.26" lengthAdjust="spacingAndGlyphs" stroke="#1e1e1e" stroke-width="0.07">51.7 % (31)</text>
<text x="160.00" y="420.00" font-size="6.6" text-anchor="middle" font-weight="normal" fill="#1e1e1e" textLength="32.26" lengthAdjust="spacingAndGlyphs" stroke="#1e1e1e" stroke-width="0.07">48.3 % (29)</text>
<text x="213.60" y="420.00" font-size="6.6" text-anchor="middle" font-weight="normal" fill="#1e1e1e" textLength="44.05" lengthAdjust="spacingAndGlyphs" stroke="#1e1e1e" stroke-width="0.07">15.4 (5.6 ; 32.4)</text>
<text x="30.00" y="429.60" font-size="6.6" text-anchor="start" font-weight="normal" fill="#1e1e1e" textLength="30.17" lengthAdjust="spacingAndGlyphs" stroke="#1e1e1e" stroke-width="0.07">Non HGBL</text>
<text x="84.50" y="429.60" font-size="6.6" text-anchor="middle" font-weight="normal" fill="#1e1e1e" textLength="10.41" lengthAdjust="spacingAndGlyphs" stroke="#1e1e1e" stroke-width="0.07">135</text>
<text x="124.50" y="429.60" font-size="6.6" text-anchor="middle" font-weight="normal" fill="#1e1e1e" textLength="32.26" lengthAdjust="spacingAndGlyphs" stroke="#1e1e1e" stroke-width="0.07">44.4 % (60)</text>
<text x="160.00" y="429.60" font-size="6.6" text-anchor="middle" font-weight="normal" fill="#1e1e1e" textLength="32.26" lengthAdjust="spacingAndGlyphs" stroke="#1e1e1e" stroke-width="0.07">55.6 % (75)</text>
<text x="213.60" y="429.60" font-size="6.6" text-anchor="middle" font-weight="normal" fill="#1e1e1e" textLength="40.58" lengthAdjust="spacingAndGlyphs" stroke="#1e1e1e" stroke-width="0.07">18.3 (8.5 ; NA)</text>
<line x1="94.50" y1="438.00" x2="108.80" y2="438.00" stroke="#b81c2c" stroke-width="1.1" stroke-opacity="0.75"/>
<text x="111.20" y="440.00" font-size="6.3" text-anchor="start" font-weight="normal" fill="#1e1e1e" textLength="17.81" lengthAdjust="spacingAndGlyphs" stroke="#1e1e1e" stroke-width="0.07">HGBL</text>
<line x1="135.50" y1="438.00" x2="150.20" y2="438.00" stroke="#1f3763" stroke-width="1.1" stroke-opacity="0.75"/>
<text x="154.20" y="440.00" font-size="6.3" text-anchor="start" font-weight="normal" fill="#1e1e1e" textLength="30.75" lengthAdjust="spacingAndGlyphs" stroke="#1e1e1e" stroke-width="0.07">Non HGBL</text>
<path d="M311.00,253.90 L311.54,253.90 L311.54,256.47 L312.61,256.47 L312.61,259.05 L313.69,259.05 L313.69,261.62 L314.76,261.62 L314.76,264.20 L315.30,264.20 L315.30,264.20 L315.67,264.20 L315.67,266.56 L316.41,266.56 L316.41,268.92 L317.15,268.92 L317.15,271.28 L317.89,271.28 L317.89,273.64 L318.63,273.64 L318.63,276.00 L319.00,276.00 L319.00,276.00 L319.62,276.00 L319.62,278.47 L320.85,278.47 L320.85,280.93 L322.08,280.93 L322.08,283.40 L322.70,283.40 L322.70,283.40 L322.82,283.40 L322.82,285.85 L323.07,285.85 L323.07,288.30 L323.32,288.30 L323.32,290.75 L323.57,290.75 L323.57,293.20 L323.82,293.20 L323.82,295.65 L324.07,295.65 L324.07,298.10 L324.20,298.10 L324.20,298.10 L325.65,298.10 L325.65,301.10 L327.10,301.10 L327.10,301.10 L328.58,301.10 L328.58,303.30 L331.52,303.30 L331.52,305.50 L333.00,305.50 L333.00,305.50 L334.48,305.50 L334.48,307.00 L337.42,307.00 L337.42,308.50 L338.90,308.50 L338.90,308.50 L340.00,308.50 L340.00,309.20 L342.20,309.20 L342.20,309.90 L343.30,309.90 L343.30,309.90 L344.42,309.90 L344.42,308.87 L346.65,308.87 L346.65,307.83 L348.88,307.83 L348.88,306.80 L350.00,306.80 L350.00,306.80 L351.28,306.80 L351.28,307.01 L353.85,307.01 L353.85,307.22 L356.42,307.22 L356.42,307.43 L358.98,307.43 L358.98,307.64 L361.55,307.64 L361.55,307.86 L364.12,307.86 L364.12,308.07 L366.68,308.07 L366.68,308.28 L369.25,308.28 L369.25,308.49 L371.82,308.49 L371.82,308.70 L373.10,308.70 L373.10,308.70 L374.39,308.70 L374.39,308.86 L376.97,308.86 L376.97,309.02 L379.55,309.02 L379.55,309.19 L382.13,309.19 L382.13,309.35 L384.72,309.35 L384.72,309.51 L387.30,309.51 L387.30,309.68 L389.88,309.68 L389.88,309.84 L392.46,309.84 L392.46,310.00 L393.75,310.00 L393.75,310.00 L480.00,310.00 L480.00,310.00 L480.00,332.00 L480.00,332.00 L393.75,332.00 L393.75,332.00 L392.45,332.00 L392.45,331.25 L389.86,331.25 L389.86,330.50 L387.27,330.50 L387.27,329.75 L384.67,329.75 L384.67,329.00 L382.08,329.00 L382.08,328.25 L379.48,328.25 L379.48,327.50 L376.89,327.50 L376.89,326.75 L374.30,326.75 L374.30,326.00 L373.00,326.00 L373.00,326.00 L371.72,326.00 L371.72,325.89 L369.17,325.89 L369.17,325.78 L366.61,325.78 L366.61,325.67 L364.06,325.67 L364.06,325.56 L361.50,325.56 L361.50,325.44 L358.94,325.44 L358.94,325.33 L356.39,325.33 L356.39,325.22 L353.83,325.22 L353.83,325.11 L351.28,325.11 L351.28,325.00 L350.00,325.00 L350.00,325.00 L348.61,325.00 L348.61,324.25 L345.84,324.25 L345.84,323.50 L343.06,323.50 L343.06,322.75 L340.29,322.75 L340.29,322.00 L338.90,322.00 L338.90,322.00 L337.67,322.00 L337.67,320.30 L335.20,320.30 L335.20,318.60 L332.73,318.60 L332.73,316.90 L331.50,316.90 L331.50,316.90 L330.28,316.90 L330.28,314.93 L327.85,314.93 L327.85,312.97 L325.42,312.97 L325.42,311.00 L324.20,311.00 L324.20,311.00 L324.07,311.00 L324.07,308.33 L323.82,308.33 L323.82,305.67 L323.57,305.67 L323.57,303.00 L323.32,303.00 L323.32,300.33 L323.07,300.33 L323.07,297.67 L322.82,297.67 L322.82,295.00 L322.70,295.00 L322.70,295.00 L322.24,295.00 L322.24,292.50 L321.31,292.50 L321.31,290.00 L320.39,290.00 L320.39,287.50 L319.46,287.50 L319.46,285.00 L319.00,285.00 L319.00,285.00 L318.63,285.00 L318.63,282.40 L317.89,282.40 L317.89,279.80 L317.15,279.80 L317.15,277.20 L316.41,277.20 L316.41,274.60 L315.67,274.60 L315.67,272.00 L315.30,272.00 L315.30,272.00 L314.87,272.00 L314.87,269.20 L314.01,269.20 L314.01,266.40 L313.15,266.40 L313.15,263.60 L312.29,263.60 L312.29,260.80 L311.43,260.80 L311.43,258.00 L311.00,258.00 Z" fill="rgba(102,113,163,0.37)" stroke="none"/>
<path d="M311.00,257.90 L312.45,257.90 L312.45,260.85 L315.35,260.85 L315.35,263.80 L316.80,263.80 L316.80,263.80 L318.10,263.80 L318.10,266.00 L320.70,266.00 L320.70,268.20 L322.00,268.20 L322.00,268.20 L322.45,268.20 L322.45,270.77 L323.35,270.77 L323.35,273.35 L324.25,273.35 L324.25,275.93 L325.15,275.93 L325.15,278.50 L325.60,278.50 L325.60,278.50 L327.10,278.50 L327.10,281.50 L328.60,281.50 L328.60,281.50 L329.83,281.50 L329.83,282.97 L332.30,282.97 L332.30,284.43 L334.77,284.43 L334.77,285.90 L336.00,285.90 L336.00,285.90 L336.29,285.90 L336.29,288.56 L336.87,288.56 L336.87,291.22 L337.45,291.22 L337.45,293.88 L338.03,293.88 L338.03,296.54 L338.61,296.54 L338.61,299.20 L338.90,299.20 L338.90,299.20 L349.20,299.20 L349.20,299.20 L349.95,299.20 L349.95,302.10 L350.70,302.10 L350.70,302.10 L351.89,302.10 L351.89,302.85 L354.27,302.85 L354.27,303.60 L356.66,303.60 L356.66,304.35 L359.04,304.35 L359.04,305.10 L361.43,305.10 L361.43,305.85 L363.81,305.85 L363.81,306.60 L365.00,306.60 L365.00,306.60 L366.24,306.60 L366.24,306.59 L368.72,306.59 L368.72,306.58 L371.20,306.58 L371.20,306.57 L373.69,306.57 L373.69,306.56 L376.17,306.56 L376.17,306.55 L378.65,306.55 L378.65,306.55 L381.13,306.55 L381.13,306.54 L383.61,306.54 L383.61,306.53 L386.10,306.53 L386.10,306.52 L388.58,306.52 L388.58,306.51 L391.06,306.51 L391.06,306.50 L392.30,306.50 L392.30,306.50 L395.00,306.50 L395.00,322.50 L425.00,322.50 L425.00,322.50 L425.00,354.50 L425.00,354.50 L395.00,354.50 L395.00,342.40 L392.30,342.40 L392.30,342.40 L391.06,342.40 L391.06,342.23 L388.58,342.23 L388.58,342.05 L386.10,342.05 L386.10,341.88 L383.61,341.88 L383.61,341.71 L381.13,341.71 L381.13,341.54 L378.65,341.54 L378.65,341.36 L376.17,341.36 L376.17,341.19 L373.69,341.19 L373.69,341.02 L371.20,341.02 L371.20,340.85 L368.72,340.85 L368.72,340.67 L366.24,340.67 L366.24,340.50 L365.00,340.50 L365.00,340.50 L363.72,340.50 L363.72,339.76 L361.16,339.76 L361.16,339.02 L358.60,339.02 L358.60,338.28 L356.04,338.28 L356.04,337.54 L353.48,337.54 L353.48,336.80 L352.20,336.80 L352.20,336.80 L351.82,336.80 L351.82,334.60 L351.07,334.60 L351.07,332.40 L350.70,332.40 L350.70,332.40 L339.70,332.40 L339.70,332.40 L339.57,332.40 L339.57,330.17 L339.30,330.17 L339.30,327.93 L339.03,327.93 L339.03,325.70 L338.90,325.70 L338.90,325.70 L337.67,325.70 L337.67,322.77 L335.20,322.77 L335.20,319.83 L332.73,319.83 L332.73,316.90 L331.50,316.90 L331.50,316.90 L330.28,316.90 L330.28,314.93 L327.85,314.93 L327.85,312.97 L325.42,312.97 L325.42,311.00 L324.20,311.00 L324.20,311.00 L323.92,311.00 L323.92,308.41 L323.36,308.41 L323.36,305.82 L322.79,305.82 L322.79,303.24 L322.23,303.24 L322.23,300.65 L321.67,300.65 L321.67,298.06 L321.11,298.06 L321.11,295.48 L320.54,295.48 L320.54,292.89 L319.98,292.89 L319.98,290.30 L319.70,290.30 L319.70,290.30 L319.26,290.30 L319.26,287.66 L318.38,287.66 L318.38,285.02 L317.50,285.02 L317.50,282.38 L316.62,282.38 L316.62,279.74 L315.74,279.74 L315.74,277.10 L315.30,277.10 L315.30,277.10 L315.06,277.10 L315.06,274.38 L314.57,274.38 L314.57,271.67 L314.09,271.67 L314.09,268.95 L313.61,268.95 L313.61,266.23 L313.12,266.23 L313.12,263.52 L312.64,263.52 L312.64,260.80 L312.40,260.80 L312.40,260.80 L311.70,260.80 L311.70,259.00 L311.00,259.00 Z" fill="rgba(229,110,84,0.38)" stroke="none"/>
<path d="M311.00,257.90 L311.54,257.90 L311.54,260.47 L312.61,260.47 L312.61,263.05 L313.69,263.05 L313.69,265.62 L314.76,265.62 L314.76,268.20 L315.30,268.20 L315.30,268.20 L315.67,268.20 L315.67,270.56 L316.41,270.56 L316.41,272.92 L317.15,272.92 L317.15,275.28 L317.89,275.28 L317.89,277.64 L318.63,277.64 L318.63,280.00 L319.00,280.00 L319.00,280.00 L319.62,280.00 L319.62,282.47 L320.85,282.47 L320.85,284.93 L322.08,284.93 L322.08,287.40 L322.70,287.40 L322.70,287.40 L322.82,287.40 L322.82,289.85 L323.07,289.85 L323.07,292.30 L323.32,292.30 L323.32,294.75 L323.57,294.75 L323.57,297.20 L323.82,297.20 L323.82,299.65 L324.07,299.65 L324.07,302.10 L324.20,302.10 L324.20,302.10 L325.65,302.10 L325.65,305.10 L327.10,305.10 L327.10,305.10 L328.58,305.10 L328.58,307.30 L331.52,307.30 L331.52,309.50 L333.00,309.50 L333.00,309.50 L334.48,309.50 L334.48,311.00 L337.42,311.00 L337.42,312.50 L338.90,312.50 L338.90,312.50 L340.00,312.50 L340.00,313.20 L342.20,313.20 L342.20,313.90 L343.30,313.90 L343.30,313.90 L344.77,313.90 L344.77,314.65 L347.73,314.65 L347.73,315.40 L349.20,315.40 L349.20,315.40 L350.68,315.40 L350.68,316.15 L353.62,316.15 L353.62,316.90 L355.10,316.90 L355.10,316.90 L356.44,316.90 L356.44,316.98 L359.12,316.98 L359.12,317.07 L361.81,317.07 L361.81,317.15 L364.49,317.15 L364.49,317.23 L367.18,317.23 L367.18,317.32 L369.86,317.32 L369.86,317.40 L371.20,317.40 L371.20,317.40 L372.15,317.40 L372.15,319.30 L373.10,319.30 L373.10,319.30 L374.42,319.30 L374.42,319.38 L377.05,319.38 L377.05,319.46 L379.68,319.46 L379.68,319.54 L382.31,319.54 L382.31,319.62 L384.94,319.62 L384.94,319.70 L386.25,319.70 L386.25,319.70 L386.25,319.70 L386.25,321.25 L480.00,321.25 L480.00,321.25" fill="none" stroke="#1f3763" stroke-width="1.3" stroke-linejoin="miter"/>
<path d="M311.00,257.90 L311.85,257.90 L311.85,260.37 L313.55,260.37 L313.55,262.83 L315.25,262.83 L315.25,265.30 L316.10,265.30 L316.10,265.30 L316.28,265.30 L316.28,267.50 L316.62,267.50 L316.62,269.70 L316.80,269.70 L316.80,269.70 L318.25,269.70 L318.25,271.20 L319.70,271.20 L319.70,271.20 L320.27,271.20 L320.27,274.15 L321.43,274.15 L321.43,277.10 L322.00,277.10 L322.00,277.10 L322.35,277.10 L322.35,279.30 L323.05,279.30 L323.05,281.50 L323.40,281.50 L323.40,281.50 L323.50,281.50 L323.50,284.07 L323.70,284.07 L323.70,286.65 L323.90,286.65 L323.90,289.23 L324.10,289.23 L324.10,291.80 L324.20,291.80 L324.20,291.80 L325.30,291.80 L325.30,292.55 L327.50,292.55 L327.50,293.30 L328.60,293.30 L328.60,293.30 L328.98,293.30 L328.98,296.25 L329.73,296.25 L329.73,299.20 L330.10,299.20 L330.10,299.20 L331.58,299.20 L331.58,299.60 L334.52,299.60 L334.52,300.00 L336.00,300.00 L336.00,300.00 L336.37,300.00 L336.37,302.67 L337.10,302.67 L337.10,305.33 L337.83,305.33 L337.83,308.00 L338.20,308.00 L338.20,308.00 L338.32,308.00 L338.32,310.23 L338.55,310.23 L338.55,312.47 L338.78,312.47 L338.78,314.70 L338.90,314.70 L338.90,314.70 L349.20,314.70 L349.20,314.70 L349.57,314.70 L349.57,316.90 L350.32,316.90 L350.32,319.10 L350.70,319.10 L350.70,319.10 L363.60,319.10 L363.60,319.10 L364.30,319.10 L364.30,323.60 L392.60,323.60 L392.60,323.60 L393.30,323.60 L393.30,330.00 L393.90,330.00 L393.90,341.25 L425.00,341.25 L425.00,341.25" fill="none" stroke="#b81c2c" stroke-width="1.3" stroke-linejoin="miter"/>
<path d="M390.80,321.25H393.20M392.00,320.05V322.45M395.80,321.25H398.20M397.00,320.05V322.45M416.80,321.25H419.20M418.00,320.05V322.45M419.80,321.25H422.20M421.00,320.05V322.45M422.80,321.25H425.20M424.00,320.05V322.45M425.80,321.25H428.20M427.00,320.05V322.45M430.80,321.25H433.20M432.00,320.05V322.45M469.80,321.25H472.20M471.00,320.05V322.45M472.80,321.25H475.20M474.00,320.05V322.45M475.80,321.25H478.20M477.00,320.05V322.45" stroke="#1f3763" stroke-width="1.0" fill="none"/>
<path d="M419.80,341.25H422.20M421.00,340.05V342.45M422.80,341.25H425.20M424.00,340.05V342.45" stroke="#b81c2c" stroke-width="1.0" fill="none"/>
<path d="M299.30,256.50 V376.70 H507.50" fill="none" stroke="#383838" stroke-width="1.5"/>
<line x1="296.10" y1="360.50" x2="299.30" y2="360.50" stroke="#262626" stroke-width="1"/>
<text x="293.00" y="362.20" font-size="6.5" text-anchor="end" font-weight="normal" fill="#1e1e1e" textLength="9.48" lengthAdjust="spacingAndGlyphs" stroke="#1e1e1e" stroke-width="0.07">0.0</text>
<line x1="296.10" y1="339.50" x2="299.30" y2="339.50" stroke="#262626" stroke-width="1"/>
<text x="293.00" y="341.70" font-size="6.5" text-anchor="end" font-weight="normal" fill="#1e1e1e" textLength="9.48" lengthAdjust="spacingAndGlyphs" stroke="#1e1e1e" stroke-width="0.07">0.2</text>
<line x1="296.10" y1="319.50" x2="299.30" y2="319.50" stroke="#262626" stroke-width="1"/>
<text x="293.00" y="321.20" font-size="6.5" text-anchor="end" font-weight="normal" fill="#1e1e1e" textLength="9.48" lengthAdjust="spacingAndGlyphs" stroke="#1e1e1e" stroke-width="0.07">0.4</text>
<line x1="296.10" y1="298.50" x2="299.30" y2="298.50" stroke="#262626" stroke-width="1"/>
<text x="293.00" y="300.70" font-size="6.5" text-anchor="end" font-weight="normal" fill="#1e1e1e" textLength="9.48" lengthAdjust="spacingAndGlyphs" stroke="#1e1e1e" stroke-width="0.07">0.6</text>
<line x1="296.10" y1="278.50" x2="299.30" y2="278.50" stroke="#262626" stroke-width="1"/>
<text x="293.00" y="280.20" font-size="6.5" text-anchor="end" font-weight="normal" fill="#1e1e1e" textLength="9.48" lengthAdjust="spacingAndGlyphs" stroke="#1e1e1e" stroke-width="0.07">0.8</text>
<line x1="296.10" y1="257.50" x2="299.30" y2="257.50" stroke="#262626" stroke-width="1"/>
<text x="293.00" y="259.70" font-size="6.5" text-anchor="end" font-weight="normal" fill="#1e1e1e" textLength="9.48" lengthAdjust="spacingAndGlyphs" stroke="#1e1e1e" stroke-width="0.07">1.0</text>
<line x1="310.50" y1="376.70" x2="310.50" y2="379.70" stroke="#262626" stroke-width="1"/>
<text x="310.30" y="388.50" font-size="5.8" text-anchor="middle" font-weight="normal" fill="#1e1e1e" textLength="3.87" lengthAdjust="spacingAndGlyphs" stroke="#1e1e1e" stroke-width="0.07">0</text>
<line x1="337.50" y1="376.70" x2="337.50" y2="379.70" stroke="#262626" stroke-width="1"/>
<text x="337.60" y="388.50" font-size="5.8" text-anchor="middle" font-weight="normal" fill="#1e1e1e" textLength="3.87" lengthAdjust="spacingAndGlyphs" stroke="#1e1e1e" stroke-width="0.07">6</text>
<line x1="364.50" y1="376.70" x2="364.50" y2="379.70" stroke="#262626" stroke-width="1"/>
<text x="364.90" y="388.50" font-size="5.8" text-anchor="middle" font-weight="normal" fill="#1e1e1e" textLength="7.74" lengthAdjust="spacingAndGlyphs" stroke="#1e1e1e" stroke-width="0.07">12</text>
<line x1="392.50" y1="376.70" x2="392.50" y2="379.70" stroke="#262626" stroke-width="1"/>
<text x="392.20" y="388.50" font-size="5.8" text-anchor="middle" font-weight="normal" fill="#1e1e1e" textLength="7.74" lengthAdjust="spacingAndGlyphs" stroke="#1e1e1e" stroke-width="0.07">18</text>
<line x1="419.50" y1="376.70" x2="419.50" y2="379.70" stroke="#262626" stroke-width="1"/>
<text x="419.50" y="388.50" font-size="5.8" text-anchor="middle" font-weight="normal" fill="#1e1e1e" textLength="7.74" lengthAdjust="spacingAndGlyphs" stroke="#1e1e1e" stroke-width="0.07">24</text>
<line x1="446.50" y1="376.70" x2="446.50" y2="379.70" stroke="#262626" stroke-width="1"/>
<text x="446.80" y="388.50" font-size="5.8" text-anchor="middle" font-weight="normal" fill="#1e1e1e" textLength="7.74" lengthAdjust="spacingAndGlyphs" stroke="#1e1e1e" stroke-width="0.07">30</text>
<line x1="474.50" y1="376.70" x2="474.50" y2="379.70" stroke="#262626" stroke-width="1"/>
<text x="474.10" y="388.50" font-size="5.8" text-anchor="middle" font-weight="normal" fill="#1e1e1e" textLength="7.74" lengthAdjust="spacingAndGlyphs" stroke="#1e1e1e" stroke-width="0.07">36</text>
<line x1="501.50" y1="376.70" x2="501.50" y2="379.70" stroke="#262626" stroke-width="1"/>
<text x="501.40" y="388.50" font-size="5.8" text-anchor="middle" font-weight="normal" fill="#1e1e1e" textLength="7.74" lengthAdjust="spacingAndGlyphs" stroke="#1e1e1e" stroke-width="0.07">42</text>
<text x="310.30" y="369.40" font-size="4.6" text-anchor="middle" font-weight="normal" fill="#1e1e1e" textLength="6.24" lengthAdjust="spacingAndGlyphs" stroke="#1e1e1e" stroke-width="0.07">37</text>
<text x="337.60" y="369.40" font-size="4.6" text-anchor="middle" font-weight="normal" fill="#1e1e1e" textLength="6.24" lengthAdjust="spacingAndGlyphs" stroke="#1e1e1e" stroke-width="0.07">15</text>
<text x="364.90" y="369.40" font-size="4.6" text-anchor="middle" font-weight="normal" fill="#1e1e1e" textLength="3.12" lengthAdjust="spacingAndGlyphs" stroke="#1e1e1e" stroke-width="0.07">8</text>
<text x="392.20" y="369.40" font-size="4.6" text-anchor="middle" font-weight="normal" fill="#1e1e1e" textLength="3.12" lengthAdjust="spacingAndGlyphs" stroke="#1e1e1e" stroke-width="0.07">6</text>
<text x="419.50" y="369.40" font-size="4.6" text-anchor="middle" font-weight="normal" fill="#1e1e1e" textLength="3.12" lengthAdjust="spacingAndGlyphs" stroke="#1e1e1e" stroke-width="0.07">3</text>
<text x="446.80" y="369.40" font-size="4.6" text-anchor="middle" font-weight="normal" fill="#1e1e1e" textLength="3.12" lengthAdjust="spacingAndGlyphs" stroke="#1e1e1e" stroke-width="0.07">0</text>
<text x="310.30" y="375.40" font-size="4.6" text-anchor="middle" font-weight="normal" fill="#1e1e1e" textLength="6.24" lengthAdjust="spacingAndGlyphs" stroke="#1e1e1e" stroke-width="0.07">90</text>
<text x="337.60" y="375.40" font-size="4.6" text-anchor="middle" font-weight="normal" fill="#1e1e1e" textLength="6.24" lengthAdjust="spacingAndGlyphs" stroke="#1e1e1e" stroke-width="0.07">31</text>
<text x="364.90" y="375.40" font-size="4.6" text-anchor="middle" font-weight="normal" fill="#1e1e1e" textLength="6.24" lengthAdjust="spacingAndGlyphs" stroke="#1e1e1e" stroke-width="0.07">23</text>
<text x="392.20" y="375.40" font-size="4.6" text-anchor="middle" font-weight="normal" fill="#1e1e1e" textLength="6.24" lengthAdjust="spacingAndGlyphs" stroke="#1e1e1e" stroke-width="0.07">19</text>
<text x="419.50" y="375.40" font-size="4.6" text-anchor="middle" font-weight="normal" fill="#1e1e1e" textLength="6.24" lengthAdjust="spacingAndGlyphs" stroke="#1e1e1e" stroke-width="0.07">12</text>
<text x="446.80" y="375.40" font-size="4.6" text-anchor="middle" font-weight="normal" fill="#1e1e1e" textLength="3.12" lengthAdjust="spacingAndGlyphs" stroke="#1e1e1e" stroke-width="0.07">5</text>
<text x="474.10" y="375.40" font-size="4.6" text-anchor="middle" font-weight="normal" fill="#1e1e1e" textLength="3.12" lengthAdjust="spacingAndGlyphs" stroke="#1e1e1e" stroke-width="0.07">3</text>
<text x="501.40" y="375.40" font-size="4.6" text-anchor="middle" font-weight="normal" fill="#1e1e1e" textLength="3.12" lengthAdjust="spacingAndGlyphs" stroke="#1e1e1e" stroke-width="0.07">0</text>
<text x="295.90" y="369.40" font-size="5.0" text-anchor="end" font-weight="normal" fill="#1e1e1e" textLength="14.5" lengthAdjust="spacingAndGlyphs" stroke="#1e1e1e" stroke-width="0.07">HGBL</text>
<text x="295.90" y="375.40" font-size="5.0" text-anchor="end" font-weight="normal" fill="#1e1e1e" textLength="25.5" lengthAdjust="spacingAndGlyphs" stroke="#1e1e1e" stroke-width="0.07">Non HGBL</text>
<text x="0" y="0" font-size="7.4" font-weight="bold" text-anchor="middle" fill-opacity="0.9" fill="#1e1e1e" transform="translate(279.50,316.00) rotate(-90)" textLength="48" lengthAdjust="spacingAndGlyphs">Survival probability</text>
<text x="403.50" y="399.80" font-size="8.0" text-anchor="middle" font-weight="bold" fill="#2a2a2a" textLength="97" lengthAdjust="spacingAndGlyphs">PFS since 1st administration (months)</text>
<text x="275.80" y="235.40" font-size="10.2" text-anchor="middle" font-weight="bold" fill="#000" stroke="#000" stroke-width="0.35">D</text>
<text x="403.30" y="233.70" font-size="8.4" text-anchor="middle" font-weight="normal" fill="#1e1e1e" textLength="189.5" lengthAdjust="spacingAndGlyphs" stroke="#1e1e1e" stroke-width="0.07">PFS since infusion - HGBL vs Non HGBL (subgroup</text>
<text x="403.30" y="243.70" font-size="8.4" text-anchor="middle" font-weight="normal" fill="#1e1e1e" textLength="163" lengthAdjust="spacingAndGlyphs" stroke="#1e1e1e" stroke-width="0.07">treated with axicabtagene ciloleucel, n = 127)</text>
<text x="401.60" y="251.70" font-size="6.5" text-anchor="middle" font-weight="normal" fill="#1e1e1e" textLength="158" lengthAdjust="spacingAndGlyphs" stroke="#1e1e1e" stroke-width="0.03">With Number of Subjects at Risk and 95% Confidence Limits</text>
<text x="475.30" y="266.90" font-size="6.4" text-anchor="middle" font-weight="normal" fill="#1e1e1e" textLength="31.5" lengthAdjust="spacingAndGlyphs" stroke="#1e1e1e" stroke-width="0.07">+ Censored</text>
<text x="475.30" y="274.50" font-size="6.5" text-anchor="middle" fill="#1e1e1e" textLength="50.5" lengthAdjust="spacingAndGlyphs">Logrank <tspan font-style="italic">P</tspan> = .6884</text>
<text x="349.10" y="410.20" font-size="6.6" text-anchor="middle" font-weight="normal" fill="#1e1e1e" textLength="42.32" lengthAdjust="spacingAndGlyphs" stroke="#1e1e1e" stroke-width="0.07">No. of Subjects</text>
<text x="389.10" y="410.20" font-size="6.6" text-anchor="middle" font-weight="normal" fill="#1e1e1e" textLength="15.96" lengthAdjust="spacingAndGlyphs" stroke="#1e1e1e" stroke-width="0.07">Event</text>
<text x="424.60" y="410.20" font-size="6.6" text-anchor="middle" font-weight="normal" fill="#1e1e1e" textLength="27.06" lengthAdjust="spacingAndGlyphs" stroke="#1e1e1e" stroke-width="0.07">Censored</text>
<text x="478.20" y="410.20" font-size="6.6" text-anchor="middle" font-weight="normal" fill="#1e1e1e" textLength="70.75" lengthAdjust="spacingAndGlyphs" stroke="#1e1e1e" stroke-width="0.07">Median Survival (95%CL)</text>
<text x="294.60" y="420.00" font-size="6.6" text-anchor="start" font-weight="normal" fill="#1e1e1e" textLength="16.99" lengthAdjust="spacingAndGlyphs" stroke="#1e1e1e" stroke-width="0.07">HGBL</text>
<text x="349.10" y="420.00" font-size="6.6" text-anchor="middle" font-weight="normal" fill="#1e1e1e" textLength="6.94" lengthAdjust="spacingAndGlyphs" stroke="#1e1e1e" stroke-width="0.07">37</text>
<text x="389.10" y="420.00" font-size="6.6" text-anchor="middle" font-weight="normal" fill="#1e1e1e" textLength="33.99" lengthAdjust="spacingAndGlyphs" stroke="#1e1e1e" stroke-width="0.07">59..5 % (22)</text>
<text x="424.60" y="420.00" font-size="6.6" text-anchor="middle" font-weight="normal" fill="#1e1e1e" textLength="32.26" lengthAdjust="spacingAndGlyphs" stroke="#1e1e1e" stroke-width="0.07">40.5 % (15)</text>
<text x="478.20" y="420.00" font-size="6.6" text-anchor="middle" font-weight="normal" fill="#1e1e1e" textLength="35.38" lengthAdjust="spacingAndGlyphs" stroke="#1e1e1e" stroke-width="0.07">6 (3.1 ; 18.1)</text>
<text x="294.60" y="429.60" font-size="6.6" text-anchor="start" font-weight="normal" fill="#1e1e1e" textLength="30.17" lengthAdjust="spacingAndGlyphs" stroke="#1e1e1e" stroke-width="0.07">Non HGBL</text>
<text x="349.10" y="429.60" font-size="6.6" text-anchor="middle" font-weight="normal" fill="#1e1e1e" textLength="6.94" lengthAdjust="spacingAndGlyphs" stroke="#1e1e1e" stroke-width="0.07">90</text>
<text x="389.10" y="429.60" font-size="6.6" text-anchor="middle" font-weight="normal" fill="#1e1e1e" textLength="32.26" lengthAdjust="spacingAndGlyphs" stroke="#1e1e1e" stroke-width="0.07">54.4 % (49)</text>
<text x="424.60" y="429.60" font-size="6.6" text-anchor="middle" font-weight="normal" fill="#1e1e1e" textLength="32.26" lengthAdjust="spacingAndGlyphs" stroke="#1e1e1e" stroke-width="0.07">45.6 % (41)</text>
<text x="478.20" y="429.60" font-size="6.6" text-anchor="middle" font-weight="normal" fill="#1e1e1e" textLength="40.58" lengthAdjust="spacingAndGlyphs" stroke="#1e1e1e" stroke-width="0.07">4.9 (3.1 ; 16.4)</text>
<line x1="359.10" y1="438.00" x2="373.40" y2="438.00" stroke="#b81c2c" stroke-width="1.1" stroke-opacity="0.75"/>
<text x="375.80" y="440.00" font-size="6.3" text-anchor="start" font-weight="normal" fill="#1e1e1e" textLength="17.81" lengthAdjust="spacingAndGlyphs" stroke="#1e1e1e" stroke-width="0.07">HGBL</text>
<line x1="400.10" y1="438.00" x2="414.80" y2="438.00" stroke="#1f3763" stroke-width="1.1" stroke-opacity="0.75"/>
<text x="418.80" y="440.00" font-size="6.3" text-anchor="start" font-weight="normal" fill="#1e1e1e" textLength="30.75" lengthAdjust="spacingAndGlyphs" stroke="#1e1e1e" stroke-width="0.07">Non HGBL</text>
<path d="M180.80,487.80 L182.10,487.80 L182.10,488.90 L184.70,488.90 L184.70,490.00 L186.00,490.00 L186.00,490.00 L186.79,490.00 L186.79,492.32 L188.36,492.32 L188.36,494.65 L189.94,494.65 L189.94,496.98 L191.51,496.98 L191.51,499.30 L192.30,499.30 L192.30,499.30 L193.50,499.30 L193.50,502.18 L195.90,502.18 L195.90,505.05 L198.30,505.05 L198.30,507.93 L200.70,507.93 L200.70,510.80 L201.90,510.80 L201.90,510.80 L203.31,510.80 L203.31,512.24 L206.13,512.24 L206.13,513.68 L208.95,513.68 L208.95,515.12 L211.77,515.12 L211.77,516.56 L214.59,516.56 L214.59,518.00 L216.00,518.00 L216.00,518.00 L217.33,518.00 L217.33,519.14 L219.99,519.14 L219.99,520.29 L222.64,520.29 L222.64,521.43 L225.30,521.43 L225.30,522.57 L227.96,522.57 L227.96,523.71 L230.61,523.71 L230.61,524.86 L233.27,524.86 L233.27,526.00 L234.60,526.00 L234.60,526.00 L351.25,526.00 L351.25,526.00 L351.25,551.00 L351.25,551.00 L236.50,551.00 L236.50,547.40 L236.50,547.40 L236.50,547.40 L235.22,547.40 L235.22,546.75 L232.68,546.75 L232.68,546.10 L230.12,546.10 L230.12,545.45 L227.57,545.45 L227.57,544.80 L225.02,544.80 L225.02,544.15 L222.47,544.15 L222.47,543.50 L221.20,543.50 L221.20,543.50 L219.80,543.50 L219.80,541.38 L217.00,541.38 L217.00,539.25 L214.20,539.25 L214.20,537.12 L211.40,537.12 L211.40,535.00 L210.00,535.00 L210.00,535.00 L208.75,535.00 L208.75,532.80 L206.25,532.80 L206.25,530.60 L203.75,530.60 L203.75,528.40 L201.25,528.40 L201.25,526.20 L200.00,526.20 L200.00,526.20 L199.45,526.20 L199.45,523.60 L198.35,523.60 L198.35,521.00 L197.25,521.00 L197.25,518.40 L196.15,518.40 L196.15,515.80 L195.05,515.80 L195.05,513.20 L193.95,513.20 L193.95,510.60 L192.85,510.60 L192.85,508.00 L192.30,508.00 L192.30,508.00 L191.33,508.00 L191.33,505.33 L189.40,505.33 L189.40,502.67 L187.47,502.67 L187.47,500.00 L186.50,500.00 L186.50,500.00 L185.93,500.00 L185.93,497.60 L184.79,497.60 L184.79,495.20 L183.65,495.20 L183.65,492.80 L182.51,492.80 L182.51,490.40 L181.37,490.40 L181.37,488.00 L180.80,488.00 Z" fill="rgba(102,113,163,0.37)" stroke="none"/>
<path d="M180.80,487.80 L185.60,487.80 L185.60,487.80 L187.03,487.80 L187.03,490.37 L189.90,490.37 L189.90,492.93 L192.77,492.93 L192.77,495.50 L194.20,495.50 L194.20,495.50 L195.33,495.50 L195.33,497.73 L197.60,497.73 L197.60,499.97 L199.87,499.97 L199.87,502.20 L201.00,502.20 L201.00,502.20 L211.50,502.20 L211.50,506.00 L221.20,506.00 L221.20,509.90 L234.60,509.90 L234.60,520.50 L255.80,520.50 L255.80,526.00 L302.50,526.00 L302.50,526.00 L302.50,526.00 L302.50,532.50 L308.00,532.50 L308.00,532.50 L308.00,587.50 L308.00,587.50 L302.50,587.50 L302.50,564.70 L302.50,564.70 L302.50,564.70 L255.80,564.70 L255.80,560.00 L236.50,560.00 L236.50,547.40 L234.60,547.40 L234.60,547.40 L233.26,547.40 L233.26,547.02 L230.58,547.02 L230.58,546.64 L227.90,546.64 L227.90,546.26 L225.22,546.26 L225.22,545.88 L222.54,545.88 L222.54,545.50 L221.20,545.50 L221.20,545.50 L219.75,545.50 L219.75,543.55 L216.85,543.55 L216.85,541.60 L215.40,541.60 L215.40,541.60 L213.95,541.60 L213.95,538.70 L211.05,538.70 L211.05,535.80 L209.60,535.80 L209.60,535.80 L208.16,535.80 L208.16,534.85 L205.29,534.85 L205.29,533.90 L202.41,533.90 L202.41,532.95 L199.54,532.95 L199.54,532.00 L198.10,532.00 L198.10,532.00 L197.69,532.00 L197.69,529.53 L196.86,529.53 L196.86,527.06 L196.03,527.06 L196.03,524.59 L195.20,524.59 L195.20,522.11 L194.37,522.11 L194.37,519.64 L193.54,519.64 L193.54,517.17 L192.71,517.17 L192.71,514.70 L192.30,514.70 L192.30,514.70 L191.58,514.70 L191.58,512.30 L190.12,512.30 L190.12,509.90 L188.68,509.90 L188.68,507.50 L187.22,507.50 L187.22,505.10 L186.50,505.10 L186.50,505.10 L186.03,505.10 L186.03,502.20 L185.07,502.20 L185.07,499.30 L184.12,499.30 L184.12,496.40 L183.17,496.40 L183.17,493.50 L182.70,493.50 L182.70,493.50 L182.22,493.50 L182.22,491.25 L181.28,491.25 L181.28,489.00 L180.80,489.00 Z" fill="rgba(229,110,84,0.38)" stroke="none"/>
<path d="M180.80,487.80 L182.70,487.80 L182.70,491.60 L184.60,491.60 L184.60,491.60 L185.07,491.60 L185.07,494.50 L186.03,494.50 L186.03,497.40 L186.50,497.40 L186.50,497.40 L187.95,497.40 L187.95,497.85 L190.85,497.85 L190.85,498.30 L192.30,498.30 L192.30,498.30 L194.25,498.30 L194.25,501.20 L196.20,501.20 L196.20,501.20 L196.67,501.20 L196.67,504.10 L197.62,504.10 L197.62,507.00 L198.57,507.00 L198.57,509.90 L199.53,509.90 L199.53,512.80 L200.00,512.80 L200.00,512.80 L200.95,512.80 L200.95,515.70 L201.90,515.70 L201.90,515.70 L203.10,515.70 L203.10,518.10 L205.50,518.10 L205.50,520.50 L206.70,520.50 L206.70,520.50 L207.90,520.50 L207.90,522.90 L210.30,522.90 L210.30,525.30 L211.50,525.30 L211.50,525.30 L212.70,525.30 L212.70,527.20 L215.10,527.20 L215.10,529.10 L216.30,529.10 L216.30,529.10 L217.75,529.10 L217.75,531.05 L220.65,531.05 L220.65,533.00 L222.10,533.00 L222.10,533.00 L223.55,533.00 L223.55,533.63 L226.45,533.63 L226.45,534.27 L229.35,534.27 L229.35,534.90 L230.80,534.90 L230.80,534.90 L232.23,534.90 L232.23,535.85 L235.07,535.85 L235.07,536.80 L236.50,536.80 L236.50,536.80 L238.25,536.80 L238.25,537.50 L240.00,537.50 L240.00,537.50 L351.25,537.50 L351.25,537.50" fill="none" stroke="#1f3763" stroke-width="1.3" stroke-linejoin="miter"/>
<path d="M180.80,487.80 L182.00,487.80 L182.00,488.25 L184.40,488.25 L184.40,488.70 L185.60,488.70 L185.60,488.70 L186.32,488.70 L186.32,491.10 L187.78,491.10 L187.78,493.50 L188.50,493.50 L188.50,493.50 L190.40,493.50 L190.40,496.40 L192.30,496.40 L192.30,496.40 L193.75,496.40 L193.75,498.30 L195.20,498.30 L195.20,498.30 L195.52,498.30 L195.52,500.57 L196.15,500.57 L196.15,502.83 L196.78,502.83 L196.78,505.10 L197.10,505.10 L197.10,505.10 L197.35,505.10 L197.35,507.95 L197.85,507.95 L197.85,510.80 L198.10,510.80 L198.10,510.80 L200.00,510.80 L200.00,513.70 L201.90,513.70 L201.90,513.70 L209.60,513.70 L209.60,514.70 L212.50,514.70 L212.50,519.50 L221.20,519.50 L221.20,519.50 L222.10,519.50 L222.10,523.30 L234.60,523.30 L234.60,524.30 L236.50,524.30 L236.50,533.90 L238.50,533.90 L238.50,537.50 L255.80,537.50 L255.80,537.50 L256.20,537.50 L256.20,544.80 L302.50,544.80 L302.50,544.80 L302.50,544.80 L302.50,567.00 L308.00,567.00 L308.00,567.00" fill="none" stroke="#b81c2c" stroke-width="1.3" stroke-linejoin="miter"/>
<path d="M261.80,537.50H264.20M263.00,536.30V538.70M263.80,537.50H266.20M265.00,536.30V538.70M265.80,537.50H268.20M267.00,536.30V538.70M268.80,537.50H271.20M270.00,536.30V538.70M273.80,537.50H276.20M275.00,536.30V538.70M304.80,537.50H307.20M306.00,536.30V538.70M307.80,537.50H310.20M309.00,536.30V538.70M309.80,537.50H312.20M311.00,536.30V538.70M315.80,537.50H318.20M317.00,536.30V538.70M349.80,537.50H352.20M351.00,536.30V538.70" stroke="#1f3763" stroke-width="1.0" fill="none"/>
<path d="M261.80,544.80H264.20M263.00,543.60V546.00M264.80,544.80H267.20M266.00,543.60V546.00M267.80,544.80H270.20M269.00,543.60V546.00" stroke="#b81c2c" stroke-width="1.0" fill="none"/>
<path d="M306.80,567.00H309.20M308.00,565.80V568.20" stroke="#b81c2c" stroke-width="1.0" fill="none"/>
<path d="M168.80,486.50 V606.70 H376.60" fill="none" stroke="#383838" stroke-width="1.5"/>
<line x1="165.60" y1="590.50" x2="168.80" y2="590.50" stroke="#262626" stroke-width="1"/>
<text x="162.50" y="592.30" font-size="6.5" text-anchor="end" font-weight="normal" fill="#1e1e1e" textLength="9.48" lengthAdjust="spacingAndGlyphs" stroke="#1e1e1e" stroke-width="0.07">0.0</text>
<line x1="165.60" y1="569.50" x2="168.80" y2="569.50" stroke="#262626" stroke-width="1"/>
<text x="162.50" y="571.80" font-size="6.5" text-anchor="end" font-weight="normal" fill="#1e1e1e" textLength="9.48" lengthAdjust="spacingAndGlyphs" stroke="#1e1e1e" stroke-width="0.07">0.2</text>
<line x1="165.60" y1="549.50" x2="168.80" y2="549.50" stroke="#262626" stroke-width="1"/>
<text x="162.50" y="551.30" font-size="6.5" text-anchor="end" font-weight="normal" fill="#1e1e1e" textLength="9.48" lengthAdjust="spacingAndGlyphs" stroke="#1e1e1e" stroke-width="0.07">0.4</text>
<line x1="165.60" y1="528.50" x2="168.80" y2="528.50" stroke="#262626" stroke-width="1"/>
<text x="162.50" y="530.80" font-size="6.5" text-anchor="end" font-weight="normal" fill="#1e1e1e" textLength="9.48" lengthAdjust="spacingAndGlyphs" stroke="#1e1e1e" stroke-width="0.07">0.6</text>
<line x1="165.60" y1="508.50" x2="168.80" y2="508.50" stroke="#262626" stroke-width="1"/>
<text x="162.50" y="510.30" font-size="6.5" text-anchor="end" font-weight="normal" fill="#1e1e1e" textLength="9.48" lengthAdjust="spacingAndGlyphs" stroke="#1e1e1e" stroke-width="0.07">0.8</text>
<line x1="165.60" y1="487.50" x2="168.80" y2="487.50" stroke="#262626" stroke-width="1"/>
<text x="162.50" y="489.80" font-size="6.5" text-anchor="end" font-weight="normal" fill="#1e1e1e" textLength="9.48" lengthAdjust="spacingAndGlyphs" stroke="#1e1e1e" stroke-width="0.07">1.0</text>
<line x1="179.50" y1="606.70" x2="179.50" y2="609.70" stroke="#262626" stroke-width="1"/>
<text x="179.50" y="618.50" font-size="5.8" text-anchor="middle" font-weight="normal" fill="#1e1e1e" textLength="3.87" lengthAdjust="spacingAndGlyphs" stroke="#1e1e1e" stroke-width="0.07">0</text>
<line x1="201.50" y1="606.70" x2="201.50" y2="609.70" stroke="#262626" stroke-width="1"/>
<text x="201.00" y="618.50" font-size="5.8" text-anchor="middle" font-weight="normal" fill="#1e1e1e" textLength="3.87" lengthAdjust="spacingAndGlyphs" stroke="#1e1e1e" stroke-width="0.07">6</text>
<line x1="222.50" y1="606.70" x2="222.50" y2="609.70" stroke="#262626" stroke-width="1"/>
<text x="222.50" y="618.50" font-size="5.8" text-anchor="middle" font-weight="normal" fill="#1e1e1e" textLength="7.74" lengthAdjust="spacingAndGlyphs" stroke="#1e1e1e" stroke-width="0.07">12</text>
<line x1="244.50" y1="606.70" x2="244.50" y2="609.70" stroke="#262626" stroke-width="1"/>
<text x="244.00" y="618.50" font-size="5.8" text-anchor="middle" font-weight="normal" fill="#1e1e1e" textLength="7.74" lengthAdjust="spacingAndGlyphs" stroke="#1e1e1e" stroke-width="0.07">18</text>
<line x1="265.50" y1="606.70" x2="265.50" y2="609.70" stroke="#262626" stroke-width="1"/>
<text x="265.50" y="618.50" font-size="5.8" text-anchor="middle" font-weight="normal" fill="#1e1e1e" textLength="7.74" lengthAdjust="spacingAndGlyphs" stroke="#1e1e1e" stroke-width="0.07">24</text>
<line x1="287.50" y1="606.70" x2="287.50" y2="609.70" stroke="#262626" stroke-width="1"/>
<text x="287.00" y="618.50" font-size="5.8" text-anchor="middle" font-weight="normal" fill="#1e1e1e" textLength="7.74" lengthAdjust="spacingAndGlyphs" stroke="#1e1e1e" stroke-width="0.07">30</text>
<line x1="308.50" y1="606.70" x2="308.50" y2="609.70" stroke="#262626" stroke-width="1"/>
<text x="308.50" y="618.50" font-size="5.8" text-anchor="middle" font-weight="normal" fill="#1e1e1e" textLength="7.74" lengthAdjust="spacingAndGlyphs" stroke="#1e1e1e" stroke-width="0.07">36</text>
<line x1="330.50" y1="606.70" x2="330.50" y2="609.70" stroke="#262626" stroke-width="1"/>
<text x="330.00" y="618.50" font-size="5.8" text-anchor="middle" font-weight="normal" fill="#1e1e1e" textLength="7.74" lengthAdjust="spacingAndGlyphs" stroke="#1e1e1e" stroke-width="0.07">42</text>
<line x1="351.50" y1="606.70" x2="351.50" y2="609.70" stroke="#262626" stroke-width="1"/>
<text x="351.50" y="618.50" font-size="5.8" text-anchor="middle" font-weight="normal" fill="#1e1e1e" textLength="7.74" lengthAdjust="spacingAndGlyphs" stroke="#1e1e1e" stroke-width="0.07">48</text>
<line x1="373.50" y1="606.70" x2="373.50" y2="609.70" stroke="#262626" stroke-width="1"/>
<text x="373.00" y="618.50" font-size="5.8" text-anchor="middle" font-weight="normal" fill="#1e1e1e" textLength="7.74" lengthAdjust="spacingAndGlyphs" stroke="#1e1e1e" stroke-width="0.07">54</text>
<text x="179.50" y="599.40" font-size="4.6" text-anchor="middle" font-weight="normal" fill="#1e1e1e" textLength="6.24" lengthAdjust="spacingAndGlyphs" stroke="#1e1e1e" stroke-width="0.07">37</text>
<text x="201.00" y="599.40" font-size="4.6" text-anchor="middle" font-weight="normal" fill="#1e1e1e" textLength="6.24" lengthAdjust="spacingAndGlyphs" stroke="#1e1e1e" stroke-width="0.07">21</text>
<text x="222.50" y="599.40" font-size="4.6" text-anchor="middle" font-weight="normal" fill="#1e1e1e" textLength="6.24" lengthAdjust="spacingAndGlyphs" stroke="#1e1e1e" stroke-width="0.07">14</text>
<text x="244.00" y="599.40" font-size="4.6" text-anchor="middle" font-weight="normal" fill="#1e1e1e" textLength="3.12" lengthAdjust="spacingAndGlyphs" stroke="#1e1e1e" stroke-width="0.07">9</text>
<text x="265.50" y="599.40" font-size="4.6" text-anchor="middle" font-weight="normal" fill="#1e1e1e" textLength="3.12" lengthAdjust="spacingAndGlyphs" stroke="#1e1e1e" stroke-width="0.07">5</text>
<text x="287.00" y="599.40" font-size="4.6" text-anchor="middle" font-weight="normal" fill="#1e1e1e" textLength="3.12" lengthAdjust="spacingAndGlyphs" stroke="#1e1e1e" stroke-width="0.07">2</text>
<text x="308.50" y="599.40" font-size="4.6" text-anchor="middle" font-weight="normal" fill="#1e1e1e" textLength="3.12" lengthAdjust="spacingAndGlyphs" stroke="#1e1e1e" stroke-width="0.07">0</text>
<text x="179.50" y="605.40" font-size="4.6" text-anchor="middle" font-weight="normal" fill="#1e1e1e" textLength="6.24" lengthAdjust="spacingAndGlyphs" stroke="#1e1e1e" stroke-width="0.07">90</text>
<text x="201.00" y="605.40" font-size="4.6" text-anchor="middle" font-weight="normal" fill="#1e1e1e" textLength="6.24" lengthAdjust="spacingAndGlyphs" stroke="#1e1e1e" stroke-width="0.07">52</text>
<text x="222.50" y="605.40" font-size="4.6" text-anchor="middle" font-weight="normal" fill="#1e1e1e" textLength="6.24" lengthAdjust="spacingAndGlyphs" stroke="#1e1e1e" stroke-width="0.07">29</text>
<text x="244.00" y="605.40" font-size="4.6" text-anchor="middle" font-weight="normal" fill="#1e1e1e" textLength="6.24" lengthAdjust="spacingAndGlyphs" stroke="#1e1e1e" stroke-width="0.07">24</text>
<text x="265.50" y="605.40" font-size="4.6" text-anchor="middle" font-weight="normal" fill="#1e1e1e" textLength="6.24" lengthAdjust="spacingAndGlyphs" stroke="#1e1e1e" stroke-width="0.07">16</text>
<text x="287.00" y="605.40" font-size="4.6" text-anchor="middle" font-weight="normal" fill="#1e1e1e" textLength="3.12" lengthAdjust="spacingAndGlyphs" stroke="#1e1e1e" stroke-width="0.07">8</text>
<text x="308.50" y="605.40" font-size="4.6" text-anchor="middle" font-weight="normal" fill="#1e1e1e" textLength="3.12" lengthAdjust="spacingAndGlyphs" stroke="#1e1e1e" stroke-width="0.07">6</text>
<text x="330.00" y="605.40" font-size="4.6" text-anchor="middle" font-weight="normal" fill="#1e1e1e" textLength="3.12" lengthAdjust="spacingAndGlyphs" stroke="#1e1e1e" stroke-width="0.07">1</text>
<text x="351.50" y="605.40" font-size="4.6" text-anchor="middle" font-weight="normal" fill="#1e1e1e" textLength="3.12" lengthAdjust="spacingAndGlyphs" stroke="#1e1e1e" stroke-width="0.07">1</text>
<text x="373.00" y="605.40" font-size="4.6" text-anchor="middle" font-weight="normal" fill="#1e1e1e" textLength="3.12" lengthAdjust="spacingAndGlyphs" stroke="#1e1e1e" stroke-width="0.07">0</text>
<text x="165.40" y="599.40" font-size="5.0" text-anchor="end" font-weight="normal" fill="#1e1e1e" textLength="14.5" lengthAdjust="spacingAndGlyphs" stroke="#1e1e1e" stroke-width="0.07">HGBL</text>
<text x="165.40" y="605.40" font-size="5.0" text-anchor="end" font-weight="normal" fill="#1e1e1e" textLength="25.5" lengthAdjust="spacingAndGlyphs" stroke="#1e1e1e" stroke-width="0.07">Non HGBL</text>
<text x="0" y="0" font-size="7.4" font-weight="bold" text-anchor="middle" fill-opacity="0.9" fill="#1e1e1e" transform="translate(148.00,546.00) rotate(-90)" textLength="48" lengthAdjust="spacingAndGlyphs">Survival probability</text>
<text x="272.90" y="629.80" font-size="8.0" text-anchor="middle" font-weight="bold" fill="#2a2a2a" textLength="93.5" lengthAdjust="spacingAndGlyphs">OS since 1st administration (months)</text>
<text x="145.80" y="465.40" font-size="10.2" text-anchor="middle" font-weight="bold" fill="#000" stroke="#000" stroke-width="0.35">E</text>
<text x="273.40" y="463.70" font-size="8.4" text-anchor="middle" font-weight="normal" fill="#1e1e1e" textLength="189.5" lengthAdjust="spacingAndGlyphs" stroke="#1e1e1e" stroke-width="0.07">OS since infusion - HGBL vs Non HGBL (subgroup</text>
<text x="273.40" y="473.70" font-size="8.4" text-anchor="middle" font-weight="normal" fill="#1e1e1e" textLength="163" lengthAdjust="spacingAndGlyphs" stroke="#1e1e1e" stroke-width="0.07">treated with axicabtagene ciloleucel, n = 127)</text>
<text x="270.80" y="480.50" font-size="6.5" text-anchor="middle" font-weight="normal" fill="#1e1e1e" textLength="158" lengthAdjust="spacingAndGlyphs" stroke="#1e1e1e" stroke-width="0.03">With Number of Subjects at Risk and 95% Confidence Limits</text>
<text x="347.70" y="496.60" font-size="6.4" text-anchor="middle" font-weight="normal" fill="#1e1e1e" textLength="31.5" lengthAdjust="spacingAndGlyphs" stroke="#1e1e1e" stroke-width="0.07">+ Censored</text>
<text x="347.70" y="504.20" font-size="6.5" text-anchor="middle" fill="#1e1e1e" textLength="50.5" lengthAdjust="spacingAndGlyphs">Logrank <tspan font-style="italic">P</tspan> = .7355</text>
<text x="219.10" y="640.20" font-size="6.6" text-anchor="middle" font-weight="normal" fill="#1e1e1e" textLength="42.32" lengthAdjust="spacingAndGlyphs" stroke="#1e1e1e" stroke-width="0.07">No. of Subjects</text>
<text x="259.10" y="640.20" font-size="6.6" text-anchor="middle" font-weight="normal" fill="#1e1e1e" textLength="15.96" lengthAdjust="spacingAndGlyphs" stroke="#1e1e1e" stroke-width="0.07">Event</text>
<text x="294.60" y="640.20" font-size="6.6" text-anchor="middle" font-weight="normal" fill="#1e1e1e" textLength="27.06" lengthAdjust="spacingAndGlyphs" stroke="#1e1e1e" stroke-width="0.07">Censored</text>
<text x="348.20" y="640.20" font-size="6.6" text-anchor="middle" font-weight="normal" fill="#1e1e1e" textLength="70.75" lengthAdjust="spacingAndGlyphs" stroke="#1e1e1e" stroke-width="0.07">Median Survival (95%CL)</text>
<text x="164.60" y="650.00" font-size="6.6" text-anchor="start" font-weight="normal" fill="#1e1e1e" textLength="16.99" lengthAdjust="spacingAndGlyphs" stroke="#1e1e1e" stroke-width="0.07">HGBL</text>
<text x="219.10" y="650.00" font-size="6.6" text-anchor="middle" font-weight="normal" fill="#1e1e1e" textLength="6.94" lengthAdjust="spacingAndGlyphs" stroke="#1e1e1e" stroke-width="0.07">37</text>
<text x="259.10" y="650.00" font-size="6.6" text-anchor="middle" font-weight="normal" fill="#1e1e1e" textLength="32.26" lengthAdjust="spacingAndGlyphs" stroke="#1e1e1e" stroke-width="0.07">40.5 % (15)</text>
<text x="294.60" y="650.00" font-size="6.6" text-anchor="middle" font-weight="normal" fill="#1e1e1e" textLength="32.26" lengthAdjust="spacingAndGlyphs" stroke="#1e1e1e" stroke-width="0.07">59.5 % (22)</text>
<text x="348.20" y="650.00" font-size="6.6" text-anchor="middle" font-weight="normal" fill="#1e1e1e" textLength="40.58" lengthAdjust="spacingAndGlyphs" stroke="#1e1e1e" stroke-width="0.07">16.2 (8.9 ; NA)</text>
<text x="164.60" y="659.60" font-size="6.6" text-anchor="start" font-weight="normal" fill="#1e1e1e" textLength="30.17" lengthAdjust="spacingAndGlyphs" stroke="#1e1e1e" stroke-width="0.07">Non HGBL</text>
<text x="219.10" y="659.60" font-size="6.6" text-anchor="middle" font-weight="normal" fill="#1e1e1e" textLength="6.94" lengthAdjust="spacingAndGlyphs" stroke="#1e1e1e" stroke-width="0.07">90</text>
<text x="259.10" y="659.60" font-size="6.6" text-anchor="middle" font-weight="normal" fill="#1e1e1e" textLength="32.26" lengthAdjust="spacingAndGlyphs" stroke="#1e1e1e" stroke-width="0.07">35.6 % (32)</text>
<text x="294.60" y="659.60" font-size="6.6" text-anchor="middle" font-weight="normal" fill="#1e1e1e" textLength="32.26" lengthAdjust="spacingAndGlyphs" stroke="#1e1e1e" stroke-width="0.07">64.4 % (58)</text>
<text x="348.20" y="659.60" font-size="6.6" text-anchor="middle" font-weight="normal" fill="#1e1e1e" textLength="57.22" lengthAdjust="spacingAndGlyphs" stroke="#1e1e1e" stroke-width="0.07">Not reached (9 ; NA)</text>
<line x1="229.10" y1="668.00" x2="243.40" y2="668.00" stroke="#b81c2c" stroke-width="1.1" stroke-opacity="0.75"/>
<text x="245.80" y="670.00" font-size="6.3" text-anchor="start" font-weight="normal" fill="#1e1e1e" textLength="17.81" lengthAdjust="spacingAndGlyphs" stroke="#1e1e1e" stroke-width="0.07">HGBL</text>
<line x1="270.10" y1="668.00" x2="284.80" y2="668.00" stroke="#1f3763" stroke-width="1.1" stroke-opacity="0.75"/>
<text x="288.80" y="670.00" font-size="6.3" text-anchor="start" font-weight="normal" fill="#1e1e1e" textLength="30.75" lengthAdjust="spacingAndGlyphs" stroke="#1e1e1e" stroke-width="0.07">Non HGBL</text>
</svg>
<div style="position:absolute;left:0;top:0;width:518px;height:676px;border:1px solid #5a5a5a;pointer-events:none"></div>
</body></html>
